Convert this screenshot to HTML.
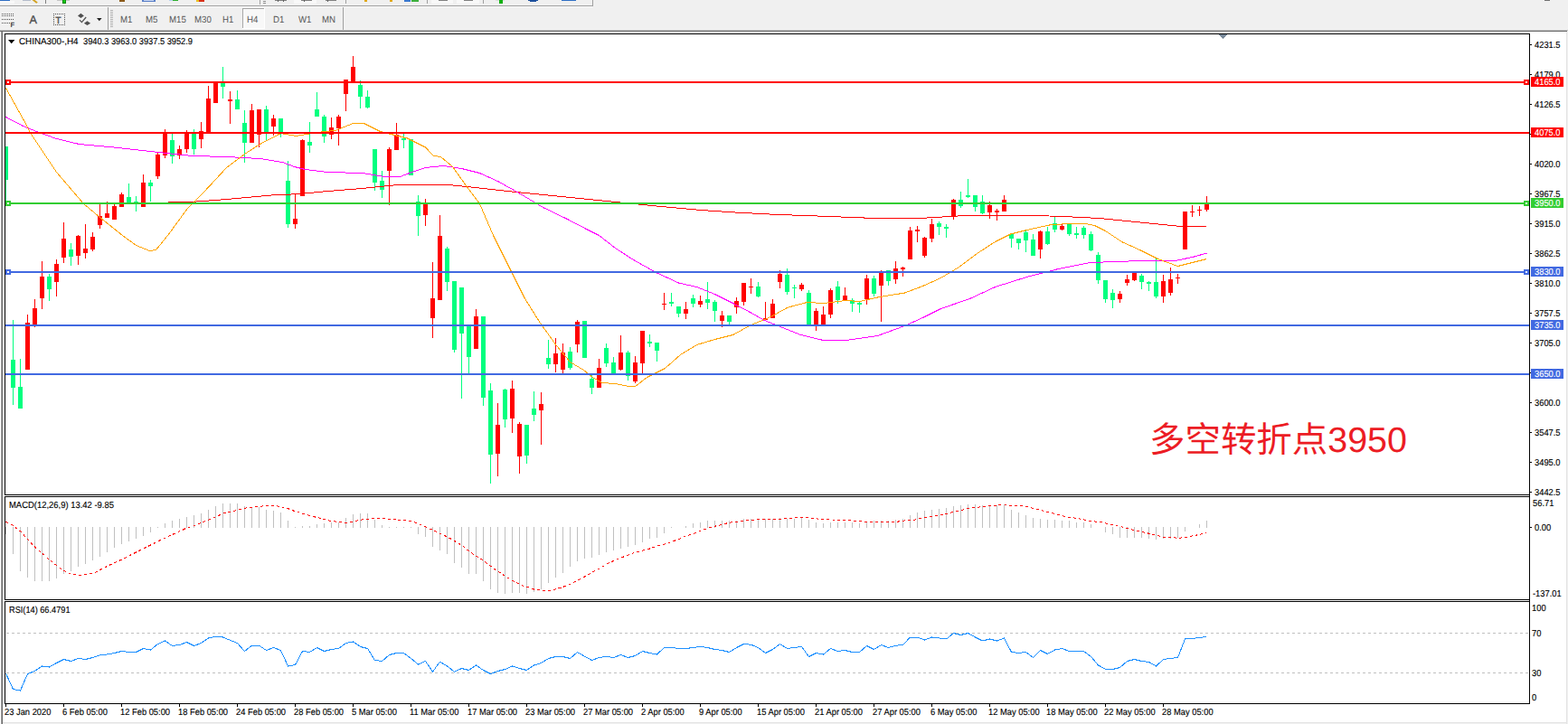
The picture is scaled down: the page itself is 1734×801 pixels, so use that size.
<!DOCTYPE html>
<html><head><meta charset="utf-8"><title>CHINA300 H4</title>
<style>html,body{margin:0;padding:0;background:#f0f0f0}body{width:1734px;height:801px;overflow:hidden;font-family:"Liberation Sans",sans-serif}svg{display:block}text{font-family:"Liberation Sans",sans-serif;text-rendering:geometricPrecision}</style>
</head><body>
<svg width="1734" height="801" viewBox="0 0 1734 801">
<rect x="0" y="0" width="1734" height="801" fill="#f0f0f0"/>
<g shape-rendering="crispEdges">
<rect x="0" y="0" width="11" height="1" fill="#2f6fc4"/>
<rect x="0" y="1" width="16" height="3" fill="#f8f8f8"/>
<rect x="25" y="0" width="9" height="1" fill="#b4bccb"/>
<path d="M35.5 0 L38.5 0 L41.8 2.6 L40.2 3.8 Z" fill="#d2a11e" shape-rendering="auto"/>
<rect x="50" y="0" width="1" height="4" fill="#808080"/>
<rect x="63" y="0" width="14" height="1" fill="#c4c4c4"/>
<rect x="69" y="0" width="4" height="4" fill="#0a8a0a"/>
<rect x="70" y="0" width="2" height="3" fill="#14c814"/>
<rect x="132" y="0" width="6" height="2" fill="#8a5a1a"/>
<rect x="157" y="0" width="15" height="2" fill="#5a7fc8"/>
<rect x="159" y="0" width="11" height="1" fill="#c8d6f0"/>
<rect x="187" y="0" width="5" height="1" fill="#b8d0f0"/>
<rect x="191" y="0" width="6" height="1" fill="#2fae2f"/>
<rect x="217" y="0" width="4" height="2" fill="#e8c020"/>
<rect x="220" y="0" width="6" height="2" fill="#d83018"/>
<rect x="287" y="0" width="1" height="5" fill="#a0a0a0"/>
<rect x="291" y="1" width="3" height="1" fill="#909090"/>
<rect x="291" y="3" width="3" height="1" fill="#909090"/>
<rect x="304" y="0" width="13" height="1" fill="#808080"/>
<rect x="307" y="0" width="1" height="2" fill="#606060"/>
<rect x="313" y="0" width="1" height="2" fill="#606060"/>
<rect x="325" y="0" width="25" height="4" fill="#f8f8f8"/>
<rect x="333" y="0" width="12" height="1" fill="#808080"/>
<rect x="336" y="0" width="1" height="2" fill="#606060"/>
<rect x="360" y="0" width="12" height="1" fill="#808080"/>
<rect x="362" y="0" width="1" height="2" fill="#606060"/>
<rect x="382" y="0" width="1" height="4" fill="#a0a0a0"/>
<rect x="403" y="0" width="3" height="2" fill="#e0a818"/>
<rect x="431" y="0" width="3" height="2" fill="#e0a818"/>
<rect x="447" y="0" width="7" height="2" fill="#3a78d0"/>
<rect x="455" y="0" width="8" height="2" fill="#3cb03c"/>
<rect x="472" y="0" width="1" height="4" fill="#a0a0a0"/>
<rect x="477" y="0" width="24" height="4" fill="#f8f8f8"/>
<rect x="485" y="0" width="10" height="1" fill="#808080"/>
<rect x="505" y="0" width="25" height="4" fill="#f8f8f8"/>
<rect x="513" y="0" width="10" height="1" fill="#808080"/>
<rect x="534" y="0" width="1" height="4" fill="#a0a0a0"/>
<rect x="548" y="0" width="10" height="1" fill="#dcdcdc"/>
<rect x="552" y="0" width="4" height="4" fill="#10b010"/>
<rect x="584" y="0" width="11" height="1" fill="#1c4f9c"/>
<rect x="586" y="1" width="7" height="1" fill="#1c4f9c"/>
<rect x="621" y="0" width="16" height="1" fill="#2f6fc4"/>
<rect x="0" y="6" width="656" height="1" fill="#a0a0a0"/>
<rect x="655" y="0" width="1" height="7" fill="#a0a0a0"/>
<rect x="0" y="7" width="655" height="1" fill="#fafafa"/>
<rect x="1708" y="0" width="6" height="1" fill="#707070"/>
<rect x="2" y="15" width="1" height="1" fill="#505050"/>
<rect x="4" y="15" width="1" height="1" fill="#505050"/>
<rect x="6" y="15" width="1" height="1" fill="#505050"/>
<rect x="8" y="15" width="1" height="1" fill="#505050"/>
<rect x="10" y="15" width="1" height="1" fill="#505050"/>
<rect x="12" y="15" width="1" height="1" fill="#505050"/>
<rect x="14" y="15" width="1" height="1" fill="#505050"/>
<rect x="2" y="17" width="1" height="1" fill="#505050"/>
<rect x="4" y="17" width="1" height="1" fill="#505050"/>
<rect x="6" y="17" width="1" height="1" fill="#505050"/>
<rect x="8" y="17" width="1" height="1" fill="#505050"/>
<rect x="10" y="17" width="1" height="1" fill="#505050"/>
<rect x="12" y="17" width="1" height="1" fill="#505050"/>
<rect x="14" y="17" width="1" height="1" fill="#505050"/>
<rect x="2" y="21" width="1" height="1" fill="#505050"/>
<rect x="4" y="21" width="1" height="1" fill="#505050"/>
<rect x="6" y="21" width="1" height="1" fill="#505050"/>
<rect x="8" y="21" width="1" height="1" fill="#505050"/>
<rect x="10" y="21" width="1" height="1" fill="#505050"/>
<rect x="12" y="21" width="1" height="1" fill="#505050"/>
<rect x="14" y="21" width="1" height="1" fill="#505050"/>
<rect x="2" y="25" width="1" height="1" fill="#505050"/>
<rect x="4" y="25" width="1" height="1" fill="#505050"/>
<rect x="6" y="25" width="1" height="1" fill="#505050"/>
<rect x="8" y="25" width="1" height="1" fill="#505050"/>
<rect x="10" y="25" width="1" height="1" fill="#505050"/>
</g>
<text x="11.6" y="29.6" font-size="7.6" fill="#404040" font-weight="bold">F</text>
<text x="32.6" y="26.3" font-size="12.6" fill="#505050" stroke="#505050" stroke-width="0.35">A</text>
<text x="61.2" y="25.6" font-size="10.4" fill="#505050" stroke="#505050" stroke-width="0.35">T</text>
<g shape-rendering="crispEdges">
<rect x="59" y="15" width="1" height="1" fill="#505050"/>
<rect x="59" y="27" width="1" height="1" fill="#505050"/>
<rect x="61" y="15" width="1" height="1" fill="#505050"/>
<rect x="61" y="27" width="1" height="1" fill="#505050"/>
<rect x="63" y="15" width="1" height="1" fill="#505050"/>
<rect x="63" y="27" width="1" height="1" fill="#505050"/>
<rect x="65" y="15" width="1" height="1" fill="#505050"/>
<rect x="65" y="27" width="1" height="1" fill="#505050"/>
<rect x="67" y="15" width="1" height="1" fill="#505050"/>
<rect x="67" y="27" width="1" height="1" fill="#505050"/>
<rect x="69" y="15" width="1" height="1" fill="#505050"/>
<rect x="69" y="27" width="1" height="1" fill="#505050"/>
<rect x="71" y="15" width="1" height="1" fill="#505050"/>
<rect x="71" y="27" width="1" height="1" fill="#505050"/>
<rect x="59" y="15" width="1" height="1" fill="#505050"/>
<rect x="71" y="15" width="1" height="1" fill="#505050"/>
<rect x="59" y="17" width="1" height="1" fill="#505050"/>
<rect x="71" y="17" width="1" height="1" fill="#505050"/>
<rect x="59" y="19" width="1" height="1" fill="#505050"/>
<rect x="71" y="19" width="1" height="1" fill="#505050"/>
<rect x="59" y="21" width="1" height="1" fill="#505050"/>
<rect x="71" y="21" width="1" height="1" fill="#505050"/>
<rect x="59" y="23" width="1" height="1" fill="#505050"/>
<rect x="71" y="23" width="1" height="1" fill="#505050"/>
<rect x="59" y="25" width="1" height="1" fill="#505050"/>
<rect x="71" y="25" width="1" height="1" fill="#505050"/>
<rect x="59" y="27" width="1" height="1" fill="#505050"/>
<rect x="71" y="27" width="1" height="1" fill="#505050"/>
</g>
<path d="M89.4 14.8 L92.9 17.6 L89.4 20 L86 17.6 Z M96.5 23.2 L100.1 25.7 L96.5 28.1 L92.9 25.7 Z" fill="#505050"/>
<path d="M88 22.2 L90.4 24.7 L95.2 19" fill="none" stroke="#505050" stroke-width="1.2"/>
<path d="M107 20 L112.6 20 L109.8 23.2 Z" fill="#202020"/>
<g shape-rendering="crispEdges">
<rect x="119" y="8" width="1" height="25" fill="#a0a0a0"/>
<rect x="122" y="11" width="3" height="1" fill="#b4b4b4"/>
<rect x="122" y="13" width="3" height="1" fill="#b4b4b4"/>
<rect x="122" y="15" width="3" height="1" fill="#b4b4b4"/>
<rect x="122" y="17" width="3" height="1" fill="#b4b4b4"/>
<rect x="122" y="19" width="3" height="1" fill="#b4b4b4"/>
<rect x="122" y="21" width="3" height="1" fill="#b4b4b4"/>
<rect x="122" y="23" width="3" height="1" fill="#b4b4b4"/>
<rect x="122" y="25" width="3" height="1" fill="#b4b4b4"/>
<rect x="122" y="27" width="3" height="1" fill="#b4b4b4"/>
<rect x="122" y="29" width="3" height="1" fill="#b4b4b4"/>
<rect x="268" y="9" width="25" height="23" fill="#f8f8f8"/>
<rect x="268" y="9" width="25" height="1" fill="#a8a8a8"/>
<rect x="268" y="9" width="1" height="23" fill="#a8a8a8"/>
<rect x="292" y="9" width="1" height="23" fill="#ffffff"/>
<rect x="268" y="31" width="25" height="1" fill="#ffffff"/>
<rect x="379" y="8" width="1" height="25" fill="#a0a0a0"/>
</g>
<text transform="translate(133 25) scale(0.93 1)" font-size="10.4" fill="#585858">M1</text>
<text transform="translate(161 25) scale(0.93 1)" font-size="10.4" fill="#585858">M5</text>
<text transform="translate(187 25) scale(0.93 1)" font-size="10.4" fill="#585858">M15</text>
<text transform="translate(215 25) scale(0.93 1)" font-size="10.4" fill="#585858">M30</text>
<text transform="translate(246 25) scale(0.93 1)" font-size="10.4" fill="#585858">H1</text>
<text transform="translate(273 25) scale(0.93 1)" font-size="10.4" fill="#585858">H4</text>
<text transform="translate(302 25) scale(0.93 1)" font-size="10.4" fill="#585858">D1</text>
<text transform="translate(330 25) scale(0.93 1)" font-size="10.4" fill="#585858">W1</text>
<text transform="translate(356 25) scale(0.93 1)" font-size="10.4" fill="#585858">MN</text>
<g shape-rendering="crispEdges">
<rect x="0" y="33" width="1734" height="1" fill="#c2c2c2"/>
<rect x="0" y="34" width="1733" height="1" fill="#696969"/>
<rect x="3" y="35" width="1729" height="764" fill="#ffffff"/>
<rect x="0" y="35" width="1" height="766" fill="#ffffff"/>
<rect x="1" y="35" width="1" height="766" fill="#a0a0a0"/>
<rect x="2" y="35" width="1" height="766" fill="#696969"/>
<rect x="1732" y="35" width="1" height="766" fill="#e3e3e3"/>
<rect x="3" y="799" width="1729" height="1" fill="#e3e3e3"/>
<rect x="5" y="37" width="1687" height="1" fill="#000000"/>
<rect x="5" y="547" width="1687" height="1" fill="#000000"/>
<rect x="5" y="37" width="1" height="511" fill="#000000"/>
<rect x="5" y="549" width="1687" height="1" fill="#000000"/>
<rect x="5" y="663" width="1687" height="1" fill="#000000"/>
<rect x="5" y="549" width="1" height="115" fill="#000000"/>
<rect x="5" y="665" width="1687" height="1" fill="#000000"/>
<rect x="5" y="778" width="1687" height="1" fill="#000000"/>
<rect x="5" y="665" width="1" height="114" fill="#000000"/>
<rect x="1691" y="37" width="1" height="742" fill="#000000"/>
</g>
<defs><clipPath id="cm"><rect x="6" y="38" width="1685" height="509"/></clipPath></defs>
<g shape-rendering="crispEdges" clip-path="url(#cm)">
<rect x="6" y="162" width="1" height="60" fill="#00ff7f"/>
<rect x="4" y="162" width="5" height="37" fill="#00ff7f"/>
<rect x="14" y="354" width="1" height="94" fill="#00ff7f"/>
<rect x="12" y="398" width="5" height="31" fill="#00ff7f"/>
<rect x="22" y="397" width="1" height="55" fill="#00ff7f"/>
<rect x="20" y="428" width="5" height="24" fill="#00ff7f"/>
<rect x="30" y="348" width="1" height="61" fill="#ff0000"/>
<rect x="28" y="357" width="5" height="52" fill="#ff0000"/>
<rect x="38" y="331" width="1" height="31" fill="#ff0000"/>
<rect x="36" y="341" width="5" height="19" fill="#ff0000"/>
<rect x="46" y="289" width="1" height="53" fill="#ff0000"/>
<rect x="44" y="306" width="5" height="24" fill="#ff0000"/>
<rect x="54" y="303" width="1" height="30" fill="#00ff7f"/>
<rect x="52" y="306" width="5" height="14" fill="#00ff7f"/>
<rect x="62" y="287" width="1" height="41" fill="#ff0000"/>
<rect x="60" y="292" width="5" height="20" fill="#ff0000"/>
<rect x="70" y="246" width="1" height="45" fill="#ff0000"/>
<rect x="68" y="264" width="5" height="21" fill="#ff0000"/>
<rect x="78" y="269" width="1" height="25" fill="#00ff7f"/>
<rect x="76" y="276" width="5" height="8" fill="#00ff7f"/>
<rect x="86" y="260" width="1" height="33" fill="#ff0000"/>
<rect x="84" y="261" width="5" height="22" fill="#ff0000"/>
<rect x="94" y="248" width="1" height="38" fill="#ff0000"/>
<rect x="92" y="275" width="5" height="5" fill="#ff0000"/>
<rect x="102" y="257" width="1" height="21" fill="#ff0000"/>
<rect x="100" y="262" width="5" height="14" fill="#ff0000"/>
<rect x="110" y="226" width="1" height="27" fill="#ff0000"/>
<rect x="108" y="239" width="5" height="10" fill="#ff0000"/>
<rect x="118" y="223" width="1" height="18" fill="#ff0000"/>
<rect x="116" y="236" width="5" height="5" fill="#ff0000"/>
<rect x="126" y="226" width="1" height="17" fill="#ff0000"/>
<rect x="124" y="228" width="5" height="15" fill="#ff0000"/>
<rect x="134" y="213" width="1" height="16" fill="#ff0000"/>
<rect x="132" y="215" width="5" height="14" fill="#ff0000"/>
<rect x="142" y="203" width="1" height="22" fill="#00ff7f"/>
<rect x="140" y="218" width="5" height="7" fill="#00ff7f"/>
<rect x="150" y="217" width="1" height="17" fill="#00ff7f"/>
<rect x="148" y="223" width="5" height="2" fill="#00ff7f"/>
<rect x="158" y="193" width="1" height="36" fill="#ff0000"/>
<rect x="156" y="202" width="5" height="27" fill="#ff0000"/>
<rect x="166" y="199" width="1" height="24" fill="#00ff7f"/>
<rect x="164" y="202" width="5" height="4" fill="#00ff7f"/>
<rect x="174" y="168" width="1" height="30" fill="#ff0000"/>
<rect x="172" y="171" width="5" height="24" fill="#ff0000"/>
<rect x="182" y="143" width="1" height="32" fill="#ff0000"/>
<rect x="180" y="146" width="5" height="26" fill="#ff0000"/>
<rect x="190" y="148" width="1" height="33" fill="#00ff7f"/>
<rect x="188" y="155" width="5" height="18" fill="#00ff7f"/>
<rect x="198" y="161" width="1" height="15" fill="#ff0000"/>
<rect x="196" y="165" width="5" height="7" fill="#ff0000"/>
<rect x="206" y="144" width="1" height="25" fill="#ff0000"/>
<rect x="204" y="147" width="5" height="18" fill="#ff0000"/>
<rect x="214" y="143" width="1" height="28" fill="#00ff7f"/>
<rect x="212" y="147" width="5" height="18" fill="#00ff7f"/>
<rect x="222" y="135" width="1" height="29" fill="#ff0000"/>
<rect x="220" y="145" width="5" height="9" fill="#ff0000"/>
<rect x="230" y="95" width="1" height="52" fill="#ff0000"/>
<rect x="228" y="109" width="5" height="38" fill="#ff0000"/>
<rect x="238" y="91" width="1" height="23" fill="#ff0000"/>
<rect x="236" y="91" width="5" height="23" fill="#ff0000"/>
<rect x="246" y="74" width="1" height="35" fill="#00ff7f"/>
<rect x="244" y="91" width="5" height="5" fill="#00ff7f"/>
<rect x="254" y="101" width="1" height="36" fill="#ff0000"/>
<rect x="252" y="110" width="5" height="2" fill="#ff0000"/>
<rect x="262" y="100" width="1" height="21" fill="#00ff7f"/>
<rect x="260" y="110" width="5" height="11" fill="#00ff7f"/>
<rect x="270" y="122" width="1" height="58" fill="#00ff7f"/>
<rect x="268" y="136" width="5" height="22" fill="#00ff7f"/>
<rect x="278" y="115" width="1" height="43" fill="#ff0000"/>
<rect x="276" y="122" width="5" height="36" fill="#ff0000"/>
<rect x="286" y="121" width="1" height="42" fill="#ff0000"/>
<rect x="284" y="121" width="5" height="28" fill="#ff0000"/>
<rect x="294" y="117" width="1" height="39" fill="#00ff7f"/>
<rect x="292" y="121" width="5" height="26" fill="#00ff7f"/>
<rect x="302" y="127" width="1" height="23" fill="#ff0000"/>
<rect x="300" y="131" width="5" height="9" fill="#ff0000"/>
<rect x="310" y="131" width="1" height="21" fill="#00ff7f"/>
<rect x="308" y="131" width="5" height="16" fill="#00ff7f"/>
<rect x="318" y="178" width="1" height="74" fill="#00ff7f"/>
<rect x="316" y="200" width="5" height="48" fill="#00ff7f"/>
<rect x="326" y="214" width="1" height="39" fill="#ff0000"/>
<rect x="324" y="242" width="5" height="6" fill="#ff0000"/>
<rect x="334" y="154" width="1" height="63" fill="#ff0000"/>
<rect x="332" y="155" width="5" height="62" fill="#ff0000"/>
<rect x="342" y="135" width="1" height="34" fill="#00ff7f"/>
<rect x="340" y="157" width="5" height="4" fill="#00ff7f"/>
<rect x="350" y="102" width="1" height="27" fill="#00ff7f"/>
<rect x="348" y="121" width="5" height="8" fill="#00ff7f"/>
<rect x="358" y="127" width="1" height="31" fill="#00ff7f"/>
<rect x="356" y="129" width="5" height="22" fill="#00ff7f"/>
<rect x="366" y="130" width="1" height="24" fill="#ff0000"/>
<rect x="364" y="141" width="5" height="8" fill="#ff0000"/>
<rect x="374" y="127" width="1" height="34" fill="#ff0000"/>
<rect x="372" y="129" width="5" height="13" fill="#ff0000"/>
<rect x="382" y="88" width="1" height="35" fill="#ff0000"/>
<rect x="380" y="88" width="5" height="16" fill="#ff0000"/>
<rect x="390" y="62" width="1" height="29" fill="#ff0000"/>
<rect x="388" y="74" width="5" height="17" fill="#ff0000"/>
<rect x="398" y="89" width="1" height="31" fill="#00ff7f"/>
<rect x="396" y="94" width="5" height="13" fill="#00ff7f"/>
<rect x="406" y="100" width="1" height="20" fill="#00ff7f"/>
<rect x="404" y="107" width="5" height="12" fill="#00ff7f"/>
<rect x="414" y="165" width="1" height="46" fill="#00ff7f"/>
<rect x="412" y="165" width="5" height="37" fill="#00ff7f"/>
<rect x="422" y="189" width="1" height="30" fill="#00ff7f"/>
<rect x="420" y="200" width="5" height="10" fill="#00ff7f"/>
<rect x="430" y="163" width="1" height="64" fill="#ff0000"/>
<rect x="428" y="165" width="5" height="24" fill="#ff0000"/>
<rect x="438" y="136" width="1" height="30" fill="#ff0000"/>
<rect x="436" y="149" width="5" height="17" fill="#ff0000"/>
<rect x="446" y="148" width="1" height="16" fill="#00ff7f"/>
<rect x="444" y="153" width="5" height="2" fill="#00ff7f"/>
<rect x="454" y="154" width="1" height="40" fill="#00ff7f"/>
<rect x="452" y="154" width="5" height="40" fill="#00ff7f"/>
<rect x="462" y="216" width="1" height="45" fill="#00ff7f"/>
<rect x="460" y="223" width="5" height="16" fill="#00ff7f"/>
<rect x="470" y="220" width="1" height="30" fill="#ff0000"/>
<rect x="468" y="225" width="5" height="13" fill="#ff0000"/>
<rect x="478" y="290" width="1" height="84" fill="#ff0000"/>
<rect x="476" y="330" width="5" height="22" fill="#ff0000"/>
<rect x="486" y="238" width="1" height="94" fill="#ff0000"/>
<rect x="484" y="261" width="5" height="71" fill="#ff0000"/>
<rect x="494" y="273" width="1" height="49" fill="#00ff7f"/>
<rect x="492" y="275" width="5" height="37" fill="#00ff7f"/>
<rect x="502" y="311" width="1" height="79" fill="#00ff7f"/>
<rect x="500" y="311" width="5" height="76" fill="#00ff7f"/>
<rect x="510" y="318" width="1" height="123" fill="#00ff7f"/>
<rect x="508" y="318" width="5" height="51" fill="#00ff7f"/>
<rect x="518" y="360" width="1" height="53" fill="#00ff7f"/>
<rect x="516" y="360" width="5" height="35" fill="#00ff7f"/>
<rect x="526" y="342" width="1" height="44" fill="#ff0000"/>
<rect x="524" y="350" width="5" height="36" fill="#ff0000"/>
<rect x="534" y="350" width="1" height="99" fill="#00ff7f"/>
<rect x="532" y="350" width="5" height="90" fill="#00ff7f"/>
<rect x="542" y="424" width="1" height="111" fill="#00ff7f"/>
<rect x="540" y="432" width="5" height="71" fill="#00ff7f"/>
<rect x="550" y="446" width="1" height="81" fill="#ff0000"/>
<rect x="548" y="470" width="5" height="32" fill="#ff0000"/>
<rect x="558" y="430" width="1" height="43" fill="#00ff7f"/>
<rect x="556" y="431" width="5" height="33" fill="#00ff7f"/>
<rect x="566" y="421" width="1" height="58" fill="#ff0000"/>
<rect x="564" y="430" width="5" height="33" fill="#ff0000"/>
<rect x="574" y="467" width="1" height="57" fill="#ff0000"/>
<rect x="572" y="469" width="5" height="36" fill="#ff0000"/>
<rect x="582" y="470" width="1" height="43" fill="#00ff7f"/>
<rect x="580" y="470" width="5" height="34" fill="#00ff7f"/>
<rect x="590" y="433" width="1" height="33" fill="#00ff7f"/>
<rect x="588" y="452" width="5" height="7" fill="#00ff7f"/>
<rect x="598" y="434" width="1" height="58" fill="#ff0000"/>
<rect x="596" y="447" width="5" height="7" fill="#ff0000"/>
<rect x="606" y="376" width="1" height="32" fill="#00ff7f"/>
<rect x="604" y="396" width="5" height="7" fill="#00ff7f"/>
<rect x="614" y="374" width="1" height="38" fill="#ff0000"/>
<rect x="612" y="391" width="5" height="12" fill="#ff0000"/>
<rect x="622" y="380" width="1" height="33" fill="#ff0000"/>
<rect x="620" y="390" width="5" height="19" fill="#ff0000"/>
<rect x="630" y="384" width="1" height="25" fill="#00ff7f"/>
<rect x="628" y="389" width="5" height="18" fill="#00ff7f"/>
<rect x="638" y="354" width="1" height="36" fill="#ff0000"/>
<rect x="636" y="356" width="5" height="25" fill="#ff0000"/>
<rect x="646" y="355" width="1" height="41" fill="#00ff7f"/>
<rect x="644" y="355" width="5" height="41" fill="#00ff7f"/>
<rect x="654" y="415" width="1" height="21" fill="#00ff7f"/>
<rect x="652" y="419" width="5" height="10" fill="#00ff7f"/>
<rect x="662" y="397" width="1" height="32" fill="#ff0000"/>
<rect x="660" y="407" width="5" height="22" fill="#ff0000"/>
<rect x="670" y="380" width="1" height="26" fill="#00ff7f"/>
<rect x="668" y="385" width="5" height="17" fill="#00ff7f"/>
<rect x="678" y="395" width="1" height="19" fill="#00ff7f"/>
<rect x="676" y="401" width="5" height="13" fill="#00ff7f"/>
<rect x="686" y="371" width="1" height="39" fill="#ff0000"/>
<rect x="684" y="390" width="5" height="19" fill="#ff0000"/>
<rect x="694" y="388" width="1" height="33" fill="#00ff7f"/>
<rect x="692" y="390" width="5" height="26" fill="#00ff7f"/>
<rect x="702" y="394" width="1" height="30" fill="#ff0000"/>
<rect x="700" y="401" width="5" height="21" fill="#ff0000"/>
<rect x="710" y="366" width="1" height="48" fill="#ff0000"/>
<rect x="708" y="366" width="5" height="36" fill="#ff0000"/>
<rect x="718" y="370" width="1" height="14" fill="#00ff7f"/>
<rect x="716" y="378" width="5" height="2" fill="#00ff7f"/>
<rect x="726" y="379" width="1" height="21" fill="#00ff7f"/>
<rect x="724" y="379" width="5" height="9" fill="#00ff7f"/>
<rect x="734" y="324" width="1" height="19" fill="#ff0000"/>
<rect x="732" y="336" width="5" height="1" fill="#ff0000"/>
<rect x="742" y="324" width="1" height="15" fill="#00ff7f"/>
<rect x="740" y="334" width="5" height="2" fill="#00ff7f"/>
<rect x="750" y="339" width="1" height="12" fill="#00ff7f"/>
<rect x="748" y="339" width="5" height="8" fill="#00ff7f"/>
<rect x="758" y="334" width="1" height="19" fill="#ff0000"/>
<rect x="756" y="342" width="5" height="5" fill="#ff0000"/>
<rect x="766" y="326" width="1" height="14" fill="#00ff7f"/>
<rect x="764" y="330" width="5" height="6" fill="#00ff7f"/>
<rect x="774" y="327" width="1" height="13" fill="#ff0000"/>
<rect x="772" y="333" width="5" height="4" fill="#ff0000"/>
<rect x="782" y="312" width="1" height="30" fill="#00ff7f"/>
<rect x="780" y="331" width="5" height="4" fill="#00ff7f"/>
<rect x="790" y="332" width="1" height="24" fill="#00ff7f"/>
<rect x="788" y="334" width="5" height="10" fill="#00ff7f"/>
<rect x="798" y="344" width="1" height="18" fill="#ff0000"/>
<rect x="796" y="349" width="5" height="6" fill="#ff0000"/>
<rect x="806" y="349" width="1" height="10" fill="#00ff7f"/>
<rect x="804" y="349" width="5" height="7" fill="#00ff7f"/>
<rect x="814" y="329" width="1" height="18" fill="#ff0000"/>
<rect x="812" y="333" width="5" height="7" fill="#ff0000"/>
<rect x="822" y="313" width="1" height="25" fill="#ff0000"/>
<rect x="820" y="313" width="5" height="21" fill="#ff0000"/>
<rect x="830" y="308" width="1" height="17" fill="#ff0000"/>
<rect x="828" y="317" width="5" height="1" fill="#ff0000"/>
<rect x="838" y="312" width="1" height="17" fill="#00ff7f"/>
<rect x="836" y="317" width="5" height="11" fill="#00ff7f"/>
<rect x="846" y="334" width="1" height="20" fill="#ff0000"/>
<rect x="844" y="352" width="5" height="2" fill="#ff0000"/>
<rect x="854" y="331" width="1" height="21" fill="#ff0000"/>
<rect x="852" y="336" width="5" height="16" fill="#ff0000"/>
<rect x="862" y="299" width="1" height="20" fill="#ff0000"/>
<rect x="860" y="303" width="5" height="9" fill="#ff0000"/>
<rect x="870" y="297" width="1" height="29" fill="#00ff7f"/>
<rect x="868" y="304" width="5" height="19" fill="#00ff7f"/>
<rect x="878" y="315" width="1" height="15" fill="#00ff7f"/>
<rect x="876" y="318" width="5" height="1" fill="#00ff7f"/>
<rect x="886" y="313" width="1" height="9" fill="#ff0000"/>
<rect x="884" y="315" width="5" height="5" fill="#ff0000"/>
<rect x="894" y="321" width="1" height="38" fill="#00ff7f"/>
<rect x="892" y="324" width="5" height="35" fill="#00ff7f"/>
<rect x="902" y="341" width="1" height="25" fill="#ff0000"/>
<rect x="900" y="344" width="5" height="15" fill="#ff0000"/>
<rect x="910" y="339" width="1" height="20" fill="#ff0000"/>
<rect x="908" y="348" width="5" height="11" fill="#ff0000"/>
<rect x="918" y="319" width="1" height="33" fill="#ff0000"/>
<rect x="916" y="321" width="5" height="27" fill="#ff0000"/>
<rect x="926" y="311" width="1" height="25" fill="#00ff7f"/>
<rect x="924" y="317" width="5" height="15" fill="#00ff7f"/>
<rect x="934" y="318" width="1" height="14" fill="#ff0000"/>
<rect x="932" y="327" width="5" height="5" fill="#ff0000"/>
<rect x="942" y="330" width="1" height="15" fill="#00ff7f"/>
<rect x="940" y="332" width="5" height="4" fill="#00ff7f"/>
<rect x="950" y="334" width="1" height="12" fill="#00ff7f"/>
<rect x="948" y="335" width="5" height="2" fill="#00ff7f"/>
<rect x="958" y="304" width="1" height="33" fill="#ff0000"/>
<rect x="956" y="308" width="5" height="23" fill="#ff0000"/>
<rect x="966" y="305" width="1" height="23" fill="#00ff7f"/>
<rect x="964" y="308" width="5" height="17" fill="#00ff7f"/>
<rect x="974" y="299" width="1" height="57" fill="#ff0000"/>
<rect x="972" y="302" width="5" height="14" fill="#ff0000"/>
<rect x="982" y="299" width="1" height="17" fill="#00ff7f"/>
<rect x="980" y="299" width="5" height="12" fill="#00ff7f"/>
<rect x="990" y="289" width="1" height="25" fill="#ff0000"/>
<rect x="988" y="297" width="5" height="12" fill="#ff0000"/>
<rect x="998" y="295" width="1" height="11" fill="#ff0000"/>
<rect x="996" y="296" width="5" height="2" fill="#ff0000"/>
<rect x="1006" y="251" width="1" height="36" fill="#ff0000"/>
<rect x="1004" y="255" width="5" height="32" fill="#ff0000"/>
<rect x="1014" y="250" width="1" height="18" fill="#ff0000"/>
<rect x="1012" y="254" width="5" height="2" fill="#ff0000"/>
<rect x="1022" y="262" width="1" height="23" fill="#ff0000"/>
<rect x="1020" y="263" width="5" height="20" fill="#ff0000"/>
<rect x="1030" y="242" width="1" height="26" fill="#ff0000"/>
<rect x="1028" y="248" width="5" height="16" fill="#ff0000"/>
<rect x="1038" y="245" width="1" height="15" fill="#00ff7f"/>
<rect x="1036" y="247" width="5" height="4" fill="#00ff7f"/>
<rect x="1046" y="248" width="1" height="15" fill="#00ff7f"/>
<rect x="1044" y="251" width="5" height="2" fill="#00ff7f"/>
<rect x="1054" y="220" width="1" height="23" fill="#ff0000"/>
<rect x="1052" y="221" width="5" height="19" fill="#ff0000"/>
<rect x="1062" y="212" width="1" height="18" fill="#00ff7f"/>
<rect x="1060" y="221" width="5" height="7" fill="#00ff7f"/>
<rect x="1070" y="198" width="1" height="21" fill="#00ff7f"/>
<rect x="1068" y="216" width="5" height="2" fill="#00ff7f"/>
<rect x="1078" y="216" width="1" height="18" fill="#00ff7f"/>
<rect x="1076" y="216" width="5" height="13" fill="#00ff7f"/>
<rect x="1086" y="216" width="1" height="21" fill="#00ff7f"/>
<rect x="1084" y="223" width="5" height="13" fill="#00ff7f"/>
<rect x="1094" y="223" width="1" height="19" fill="#ff0000"/>
<rect x="1092" y="227" width="5" height="8" fill="#ff0000"/>
<rect x="1102" y="231" width="1" height="13" fill="#ff0000"/>
<rect x="1100" y="233" width="5" height="2" fill="#ff0000"/>
<rect x="1110" y="216" width="1" height="18" fill="#ff0000"/>
<rect x="1108" y="221" width="5" height="13" fill="#ff0000"/>
<rect x="1118" y="258" width="1" height="16" fill="#00ff7f"/>
<rect x="1116" y="259" width="5" height="5" fill="#00ff7f"/>
<rect x="1126" y="264" width="1" height="12" fill="#00ff7f"/>
<rect x="1124" y="264" width="5" height="5" fill="#00ff7f"/>
<rect x="1134" y="254" width="1" height="25" fill="#00ff7f"/>
<rect x="1132" y="257" width="5" height="9" fill="#00ff7f"/>
<rect x="1142" y="259" width="1" height="24" fill="#00ff7f"/>
<rect x="1140" y="265" width="5" height="18" fill="#00ff7f"/>
<rect x="1150" y="255" width="1" height="31" fill="#ff0000"/>
<rect x="1148" y="256" width="5" height="20" fill="#ff0000"/>
<rect x="1158" y="251" width="1" height="20" fill="#00ff7f"/>
<rect x="1156" y="256" width="5" height="14" fill="#00ff7f"/>
<rect x="1166" y="240" width="1" height="17" fill="#00ff7f"/>
<rect x="1164" y="247" width="5" height="7" fill="#00ff7f"/>
<rect x="1174" y="248" width="1" height="7" fill="#ff0000"/>
<rect x="1172" y="250" width="5" height="4" fill="#ff0000"/>
<rect x="1182" y="248" width="1" height="13" fill="#00ff7f"/>
<rect x="1180" y="248" width="5" height="11" fill="#00ff7f"/>
<rect x="1190" y="251" width="1" height="13" fill="#00ff7f"/>
<rect x="1188" y="258" width="5" height="2" fill="#00ff7f"/>
<rect x="1198" y="250" width="1" height="14" fill="#00ff7f"/>
<rect x="1196" y="252" width="5" height="8" fill="#00ff7f"/>
<rect x="1206" y="256" width="1" height="22" fill="#00ff7f"/>
<rect x="1204" y="259" width="5" height="18" fill="#00ff7f"/>
<rect x="1214" y="279" width="1" height="35" fill="#00ff7f"/>
<rect x="1212" y="282" width="5" height="28" fill="#00ff7f"/>
<rect x="1222" y="310" width="1" height="25" fill="#00ff7f"/>
<rect x="1220" y="310" width="5" height="21" fill="#00ff7f"/>
<rect x="1230" y="320" width="1" height="21" fill="#00ff7f"/>
<rect x="1228" y="324" width="5" height="8" fill="#00ff7f"/>
<rect x="1238" y="322" width="1" height="13" fill="#ff0000"/>
<rect x="1236" y="325" width="5" height="6" fill="#ff0000"/>
<rect x="1246" y="304" width="1" height="12" fill="#ff0000"/>
<rect x="1244" y="309" width="5" height="4" fill="#ff0000"/>
<rect x="1254" y="302" width="1" height="9" fill="#ff0000"/>
<rect x="1252" y="302" width="5" height="8" fill="#ff0000"/>
<rect x="1262" y="303" width="1" height="17" fill="#00ff7f"/>
<rect x="1260" y="305" width="5" height="7" fill="#00ff7f"/>
<rect x="1270" y="311" width="1" height="11" fill="#00ff7f"/>
<rect x="1268" y="312" width="5" height="2" fill="#00ff7f"/>
<rect x="1278" y="285" width="1" height="45" fill="#00ff7f"/>
<rect x="1276" y="312" width="5" height="16" fill="#00ff7f"/>
<rect x="1286" y="304" width="1" height="31" fill="#ff0000"/>
<rect x="1284" y="311" width="5" height="17" fill="#ff0000"/>
<rect x="1294" y="296" width="1" height="31" fill="#ff0000"/>
<rect x="1292" y="309" width="5" height="15" fill="#ff0000"/>
<rect x="1302" y="303" width="1" height="11" fill="#ff0000"/>
<rect x="1300" y="307" width="5" height="1" fill="#ff0000"/>
<rect x="1310" y="234" width="1" height="42" fill="#ff0000"/>
<rect x="1308" y="234" width="5" height="42" fill="#ff0000"/>
<rect x="1318" y="227" width="1" height="13" fill="#ff0000"/>
<rect x="1316" y="234" width="5" height="1" fill="#ff0000"/>
<rect x="1326" y="228" width="1" height="11" fill="#ff0000"/>
<rect x="1324" y="232" width="5" height="1" fill="#ff0000"/>
<rect x="1334" y="217" width="1" height="17" fill="#ff0000"/>
<rect x="1332" y="226" width="5" height="6" fill="#ff0000"/>
</g>
<g clip-path="url(#cm)" shape-rendering="crispEdges">
<polyline points="186.5,223.5 217.5,223 250.5,220.5 300.5,216 332.5,214.5 362.5,211.5 400.5,208.5 435.5,205 495.5,204.5 525.5,207.5 575.5,213 625.5,218 675.5,223 725.5,228 775.5,232.5 812.5,235 860.5,237.5 890.5,238.5 955.5,241 1025.5,241 1067.5,238.5 1160.5,239 1185.5,240 1215.5,241.5 1250.5,245 1280.5,248 1300.5,250 1334.5,250.8" fill="none" stroke="#ff0000" stroke-width="1"/>
<polyline points="6.5,129.5 25.5,139.5 40.5,145.5 62.5,153.5 87.5,159.5 125.5,163 175.5,168.5 212.5,172.5 250.5,173.5 287.5,175.5 312.5,179.5 325.5,184.5 337.5,187.5 362.5,190.5 400.5,191.5 425.5,195.5 442.5,195.5 455.5,190.5 470.5,185.5 490.5,183.5 510.5,186.5 530.5,191.5 550.5,200.5 575.5,214.5 600.5,229.5 625.5,241.5 650.5,254.5 662.5,260.5 680.5,274.5 700.5,287.5 725.5,301.5 750.5,313 770.5,317.5 790.5,325.5 810.5,335.5 830.5,346 845.5,354.5 860.5,360.5 885.5,370.5 910.5,376.5 935.5,376.5 970.5,371.5 1000.5,360.5 1020.5,351.5 1040.5,341.5 1072.5,330.5 1100.5,317.5 1135.5,306.5 1170.5,297.5 1205.5,290.5 1235.5,289.5 1260.5,288.5 1280.5,288.5 1302.5,288 1320.5,284 1334.5,280" fill="none" stroke="#ff00ff" stroke-width="1"/>
<polyline points="6.5,97.5 30.5,140.5 32.5,145.5 62.5,190.5 92.5,225.5 110.5,240.5 135.5,260.5 150.5,271.5 165.5,277.5 172.5,276.5 185.5,260.5 207.5,230.5 225.5,212.5 250.5,185.5 270.5,170.5 287.5,159.5 310.5,147.5 327.5,150.5 350.5,146.5 370.5,144.5 390.5,136.5 402.5,136.5 420.5,145.5 450.5,153 470.5,163 479.5,172.5 487.5,173.5 500.5,184.5 515.5,205.5 530.5,225.5 545.5,260.5 565.5,300.5 580.5,330.5 597.5,357.5 615.5,382.5 630.5,400.5 645.5,409.5 655.5,417.5 665.5,423.5 680.5,424.5 695.5,427.5 702.5,427.5 715.5,417.5 735.5,407.5 752.5,392.5 770.5,381.5 790.5,375.5 810.5,370.5 830.5,359.5 850.5,351.5 870.5,340.5 875.5,339 892.5,334.5 910.5,335.5 935.5,332.5 950.5,333.5 970.5,329 1000.5,324 1020.5,316.5 1040.5,307.5 1060.5,295.5 1080.5,280.5 1100.5,267.5 1117.5,259 1135.5,254.5 1160.5,249 1180.5,247.5 1200.5,247.5 1210.5,249.5 1222.5,255.5 1240.5,267.5 1260.5,276.5 1280.5,286.5 1302.5,294.5 1320.5,290 1334.5,286.5" fill="none" stroke="#ffa500" stroke-width="1"/>
</g>
<g shape-rendering="crispEdges">
<rect x="6" y="90" width="1685" height="2" fill="#ff0000"/>
<rect x="6" y="146" width="1685" height="2" fill="#ff0000"/>
<rect x="6" y="224" width="1685" height="2" fill="#32cd32"/>
<rect x="6" y="300" width="1685" height="2" fill="#4169e1"/>
<rect x="6" y="359" width="1685" height="2" fill="#4169e1"/>
<rect x="6" y="413" width="1685" height="2" fill="#4169e1"/>
<rect x="1692" y="49" width="2" height="1" fill="#000"/>
<rect x="1692" y="82" width="2" height="1" fill="#000"/>
<rect x="1692" y="115" width="2" height="1" fill="#000"/>
<rect x="1692" y="148" width="2" height="1" fill="#000"/>
<rect x="1692" y="181" width="2" height="1" fill="#000"/>
<rect x="1692" y="214" width="2" height="1" fill="#000"/>
<rect x="1692" y="247" width="2" height="1" fill="#000"/>
<rect x="1692" y="280" width="2" height="1" fill="#000"/>
<rect x="1692" y="313" width="2" height="1" fill="#000"/>
<rect x="1692" y="346" width="2" height="1" fill="#000"/>
<rect x="1692" y="379" width="2" height="1" fill="#000"/>
<rect x="1692" y="412" width="2" height="1" fill="#000"/>
<rect x="1692" y="445" width="2" height="1" fill="#000"/>
<rect x="1692" y="478" width="2" height="1" fill="#000"/>
<rect x="1692" y="511" width="2" height="1" fill="#000"/>
<rect x="1692" y="544" width="2" height="1" fill="#000"/>
<rect x="1692" y="583" width="2" height="1" fill="#000"/>
</g>
<text transform="translate(1697 52.8) scale(0.925 1)" font-size="10.1" fill="#000" stroke="#000" stroke-width="0.13">4231.5</text>
<text transform="translate(1697 85.8) scale(0.925 1)" font-size="10.1" fill="#000" stroke="#000" stroke-width="0.13">4179.0</text>
<text transform="translate(1697 118.8) scale(0.925 1)" font-size="10.1" fill="#000" stroke="#000" stroke-width="0.13">4126.5</text>
<text transform="translate(1697 184.8) scale(0.925 1)" font-size="10.1" fill="#000" stroke="#000" stroke-width="0.13">4020.0</text>
<text transform="translate(1697 217.8) scale(0.925 1)" font-size="10.1" fill="#000" stroke="#000" stroke-width="0.13">3967.5</text>
<text transform="translate(1697 250.8) scale(0.925 1)" font-size="10.1" fill="#000" stroke="#000" stroke-width="0.13">3915.0</text>
<text transform="translate(1697 283.8) scale(0.925 1)" font-size="10.1" fill="#000" stroke="#000" stroke-width="0.13">3862.5</text>
<text transform="translate(1697 316.8) scale(0.925 1)" font-size="10.1" fill="#000" stroke="#000" stroke-width="0.13">3810.0</text>
<text transform="translate(1697 349.8) scale(0.925 1)" font-size="10.1" fill="#000" stroke="#000" stroke-width="0.13">3757.5</text>
<text transform="translate(1697 382.8) scale(0.925 1)" font-size="10.1" fill="#000" stroke="#000" stroke-width="0.13">3705.0</text>
<text transform="translate(1697 448.8) scale(0.925 1)" font-size="10.1" fill="#000" stroke="#000" stroke-width="0.13">3600.0</text>
<text transform="translate(1697 481.8) scale(0.925 1)" font-size="10.1" fill="#000" stroke="#000" stroke-width="0.13">3547.5</text>
<text transform="translate(1697 514.8) scale(0.925 1)" font-size="10.1" fill="#000" stroke="#000" stroke-width="0.13">3495.0</text>
<text transform="translate(1697 547.8) scale(0.925 1)" font-size="10.1" fill="#000" stroke="#000" stroke-width="0.13">3442.5</text>
<g shape-rendering="crispEdges">
<rect x="1693" y="85" width="36" height="11" fill="#ff0000"/>
<rect x="6" y="88" width="6" height="6" fill="#ff0000"/>
<rect x="8" y="90" width="2" height="2" fill="#fff"/>
<rect x="1685" y="88" width="6" height="6" fill="#ff0000"/>
<rect x="1687" y="90" width="2" height="2" fill="#fff"/>
<rect x="1693" y="141" width="36" height="11" fill="#ff0000"/>
<rect x="1693" y="219" width="36" height="11" fill="#32cd32"/>
<rect x="6" y="222" width="6" height="6" fill="#32cd32"/>
<rect x="8" y="224" width="2" height="2" fill="#fff"/>
<rect x="1685" y="222" width="6" height="6" fill="#32cd32"/>
<rect x="1687" y="224" width="2" height="2" fill="#fff"/>
<rect x="1693" y="295" width="36" height="11" fill="#4169e1"/>
<rect x="6" y="298" width="6" height="6" fill="#4169e1"/>
<rect x="8" y="300" width="2" height="2" fill="#fff"/>
<rect x="1685" y="298" width="6" height="6" fill="#4169e1"/>
<rect x="1687" y="300" width="2" height="2" fill="#fff"/>
<rect x="1693" y="354" width="36" height="11" fill="#4169e1"/>
<rect x="1693" y="408" width="36" height="11" fill="#4169e1"/>
</g>
<text transform="translate(1697 94.3) scale(0.925 1)" font-size="10.1" fill="#fff" stroke="#fff" stroke-width="0.13">4165.0</text>
<text transform="translate(1697 150.3) scale(0.925 1)" font-size="10.1" fill="#fff" stroke="#fff" stroke-width="0.13">4075.0</text>
<text transform="translate(1697 228.3) scale(0.925 1)" font-size="10.1" fill="#fff" stroke="#fff" stroke-width="0.13">3950.0</text>
<text transform="translate(1697 304.3) scale(0.925 1)" font-size="10.1" fill="#fff" stroke="#fff" stroke-width="0.13">3830.0</text>
<text transform="translate(1697 363.3) scale(0.925 1)" font-size="10.1" fill="#fff" stroke="#fff" stroke-width="0.13">3735.0</text>
<text transform="translate(1697 417.3) scale(0.925 1)" font-size="10.1" fill="#fff" stroke="#fff" stroke-width="0.13">3650.0</text>
<g shape-rendering="crispEdges">
<rect x="1348" y="38" width="9" height="1" fill="#778899"/>
<rect x="1349" y="39" width="7" height="1" fill="#778899"/>
<rect x="1350" y="40" width="5" height="1" fill="#778899"/>
<rect x="1351" y="41" width="3" height="1" fill="#778899"/>
<rect x="1352" y="42" width="1" height="1" fill="#778899"/>
</g>
<path d="M9 44 L16.4 44 L12.7 48.2 Z" fill="#000"/>
<text transform="translate(21 49.4) scale(0.925 1)" font-size="10.1" fill="#000" stroke="#000" stroke-width="0.13" textLength="70.8" lengthAdjust="spacingAndGlyphs">CHINA300-,H4</text>
<text transform="translate(92 49.4) scale(0.925 1)" font-size="10.1" fill="#000" stroke="#000" stroke-width="0.13" textLength="130.8" lengthAdjust="spacingAndGlyphs">3940.3 3963.0 3937.5 3952.9</text>
<text x="1271" y="500" font-size="39" fill="#ec1c24" textLength="285" lengthAdjust="spacingAndGlyphs" style="font-family:'Liberation Sans','Noto Sans CJK SC',sans-serif">多空转折点3950</text>
<g shape-rendering="crispEdges">
<rect x="6" y="583" width="1" height="8" fill="#c0c0c0"/>
<rect x="14" y="583" width="1" height="30" fill="#c0c0c0"/>
<rect x="22" y="583" width="1" height="49" fill="#c0c0c0"/>
<rect x="30" y="583" width="1" height="56" fill="#c0c0c0"/>
<rect x="38" y="583" width="1" height="60" fill="#c0c0c0"/>
<rect x="46" y="583" width="1" height="60" fill="#c0c0c0"/>
<rect x="54" y="583" width="1" height="60" fill="#c0c0c0"/>
<rect x="62" y="583" width="1" height="57" fill="#c0c0c0"/>
<rect x="70" y="583" width="1" height="52" fill="#c0c0c0"/>
<rect x="78" y="583" width="1" height="49" fill="#c0c0c0"/>
<rect x="86" y="583" width="1" height="44" fill="#c0c0c0"/>
<rect x="94" y="583" width="1" height="41" fill="#c0c0c0"/>
<rect x="102" y="583" width="1" height="37" fill="#c0c0c0"/>
<rect x="110" y="583" width="1" height="33" fill="#c0c0c0"/>
<rect x="118" y="583" width="1" height="28" fill="#c0c0c0"/>
<rect x="126" y="583" width="1" height="23" fill="#c0c0c0"/>
<rect x="134" y="583" width="1" height="19" fill="#c0c0c0"/>
<rect x="142" y="583" width="1" height="16" fill="#c0c0c0"/>
<rect x="150" y="583" width="1" height="13" fill="#c0c0c0"/>
<rect x="158" y="583" width="1" height="10" fill="#c0c0c0"/>
<rect x="166" y="583" width="1" height="6" fill="#c0c0c0"/>
<rect x="174" y="583" width="1" height="1" fill="#c0c0c0"/>
<rect x="182" y="579" width="1" height="5" fill="#c0c0c0"/>
<rect x="190" y="576" width="1" height="8" fill="#c0c0c0"/>
<rect x="198" y="574" width="1" height="10" fill="#c0c0c0"/>
<rect x="206" y="572" width="1" height="12" fill="#c0c0c0"/>
<rect x="214" y="570" width="1" height="14" fill="#c0c0c0"/>
<rect x="222" y="568" width="1" height="16" fill="#c0c0c0"/>
<rect x="230" y="564" width="1" height="20" fill="#c0c0c0"/>
<rect x="238" y="560" width="1" height="24" fill="#c0c0c0"/>
<rect x="246" y="557" width="1" height="27" fill="#c0c0c0"/>
<rect x="254" y="557" width="1" height="27" fill="#c0c0c0"/>
<rect x="262" y="557" width="1" height="27" fill="#c0c0c0"/>
<rect x="270" y="560" width="1" height="24" fill="#c0c0c0"/>
<rect x="278" y="561" width="1" height="23" fill="#c0c0c0"/>
<rect x="286" y="561" width="1" height="23" fill="#c0c0c0"/>
<rect x="294" y="564" width="1" height="20" fill="#c0c0c0"/>
<rect x="302" y="565" width="1" height="19" fill="#c0c0c0"/>
<rect x="310" y="567" width="1" height="17" fill="#c0c0c0"/>
<rect x="318" y="576" width="1" height="8" fill="#c0c0c0"/>
<rect x="326" y="583" width="1" height="1" fill="#c0c0c0"/>
<rect x="334" y="582" width="1" height="2" fill="#c0c0c0"/>
<rect x="342" y="582" width="1" height="2" fill="#c0c0c0"/>
<rect x="350" y="580" width="1" height="4" fill="#c0c0c0"/>
<rect x="358" y="579" width="1" height="5" fill="#c0c0c0"/>
<rect x="366" y="578" width="1" height="6" fill="#c0c0c0"/>
<rect x="374" y="578" width="1" height="6" fill="#c0c0c0"/>
<rect x="382" y="573" width="1" height="11" fill="#c0c0c0"/>
<rect x="390" y="569" width="1" height="15" fill="#c0c0c0"/>
<rect x="398" y="568" width="1" height="16" fill="#c0c0c0"/>
<rect x="406" y="568" width="1" height="16" fill="#c0c0c0"/>
<rect x="414" y="575" width="1" height="9" fill="#c0c0c0"/>
<rect x="422" y="581" width="1" height="3" fill="#c0c0c0"/>
<rect x="430" y="583" width="1" height="1" fill="#c0c0c0"/>
<rect x="438" y="583" width="1" height="1" fill="#c0c0c0"/>
<rect x="446" y="583" width="1" height="1" fill="#c0c0c0"/>
<rect x="454" y="583" width="1" height="1" fill="#c0c0c0"/>
<rect x="462" y="583" width="1" height="8" fill="#c0c0c0"/>
<rect x="470" y="583" width="1" height="11" fill="#c0c0c0"/>
<rect x="478" y="583" width="1" height="22" fill="#c0c0c0"/>
<rect x="486" y="583" width="1" height="26" fill="#c0c0c0"/>
<rect x="494" y="583" width="1" height="30" fill="#c0c0c0"/>
<rect x="502" y="583" width="1" height="40" fill="#c0c0c0"/>
<rect x="510" y="583" width="1" height="45" fill="#c0c0c0"/>
<rect x="518" y="583" width="1" height="52" fill="#c0c0c0"/>
<rect x="526" y="583" width="1" height="52" fill="#c0c0c0"/>
<rect x="534" y="583" width="1" height="60" fill="#c0c0c0"/>
<rect x="542" y="583" width="1" height="69" fill="#c0c0c0"/>
<rect x="550" y="583" width="1" height="73" fill="#c0c0c0"/>
<rect x="558" y="583" width="1" height="74" fill="#c0c0c0"/>
<rect x="566" y="583" width="1" height="73" fill="#c0c0c0"/>
<rect x="574" y="583" width="1" height="73" fill="#c0c0c0"/>
<rect x="582" y="583" width="1" height="74" fill="#c0c0c0"/>
<rect x="590" y="583" width="1" height="72" fill="#c0c0c0"/>
<rect x="598" y="583" width="1" height="69" fill="#c0c0c0"/>
<rect x="606" y="583" width="1" height="62" fill="#c0c0c0"/>
<rect x="614" y="583" width="1" height="56" fill="#c0c0c0"/>
<rect x="622" y="583" width="1" height="51" fill="#c0c0c0"/>
<rect x="630" y="583" width="1" height="44" fill="#c0c0c0"/>
<rect x="638" y="583" width="1" height="38" fill="#c0c0c0"/>
<rect x="646" y="583" width="1" height="35" fill="#c0c0c0"/>
<rect x="654" y="583" width="1" height="34" fill="#c0c0c0"/>
<rect x="662" y="583" width="1" height="31" fill="#c0c0c0"/>
<rect x="670" y="583" width="1" height="28" fill="#c0c0c0"/>
<rect x="678" y="583" width="1" height="26" fill="#c0c0c0"/>
<rect x="686" y="583" width="1" height="24" fill="#c0c0c0"/>
<rect x="694" y="583" width="1" height="22" fill="#c0c0c0"/>
<rect x="702" y="583" width="1" height="20" fill="#c0c0c0"/>
<rect x="710" y="583" width="1" height="17" fill="#c0c0c0"/>
<rect x="718" y="583" width="1" height="13" fill="#c0c0c0"/>
<rect x="726" y="583" width="1" height="12" fill="#c0c0c0"/>
<rect x="734" y="583" width="1" height="7" fill="#c0c0c0"/>
<rect x="742" y="583" width="1" height="1" fill="#c0c0c0"/>
<rect x="758" y="582" width="1" height="2" fill="#c0c0c0"/>
<rect x="766" y="579" width="1" height="5" fill="#c0c0c0"/>
<rect x="774" y="578" width="1" height="6" fill="#c0c0c0"/>
<rect x="782" y="576" width="1" height="8" fill="#c0c0c0"/>
<rect x="790" y="576" width="1" height="8" fill="#c0c0c0"/>
<rect x="798" y="576" width="1" height="8" fill="#c0c0c0"/>
<rect x="806" y="576" width="1" height="8" fill="#c0c0c0"/>
<rect x="814" y="576" width="1" height="8" fill="#c0c0c0"/>
<rect x="822" y="574" width="1" height="10" fill="#c0c0c0"/>
<rect x="830" y="574" width="1" height="10" fill="#c0c0c0"/>
<rect x="838" y="574" width="1" height="10" fill="#c0c0c0"/>
<rect x="846" y="574" width="1" height="10" fill="#c0c0c0"/>
<rect x="854" y="574" width="1" height="10" fill="#c0c0c0"/>
<rect x="862" y="573" width="1" height="11" fill="#c0c0c0"/>
<rect x="870" y="574" width="1" height="10" fill="#c0c0c0"/>
<rect x="878" y="574" width="1" height="10" fill="#c0c0c0"/>
<rect x="886" y="573" width="1" height="11" fill="#c0c0c0"/>
<rect x="894" y="575" width="1" height="9" fill="#c0c0c0"/>
<rect x="902" y="578" width="1" height="6" fill="#c0c0c0"/>
<rect x="910" y="579" width="1" height="5" fill="#c0c0c0"/>
<rect x="918" y="578" width="1" height="6" fill="#c0c0c0"/>
<rect x="926" y="578" width="1" height="6" fill="#c0c0c0"/>
<rect x="934" y="578" width="1" height="6" fill="#c0c0c0"/>
<rect x="942" y="578" width="1" height="6" fill="#c0c0c0"/>
<rect x="950" y="579" width="1" height="5" fill="#c0c0c0"/>
<rect x="958" y="578" width="1" height="6" fill="#c0c0c0"/>
<rect x="966" y="576" width="1" height="8" fill="#c0c0c0"/>
<rect x="974" y="576" width="1" height="8" fill="#c0c0c0"/>
<rect x="982" y="576" width="1" height="8" fill="#c0c0c0"/>
<rect x="990" y="575" width="1" height="9" fill="#c0c0c0"/>
<rect x="998" y="574" width="1" height="10" fill="#c0c0c0"/>
<rect x="1006" y="570" width="1" height="14" fill="#c0c0c0"/>
<rect x="1014" y="567" width="1" height="17" fill="#c0c0c0"/>
<rect x="1022" y="565" width="1" height="19" fill="#c0c0c0"/>
<rect x="1030" y="564" width="1" height="20" fill="#c0c0c0"/>
<rect x="1038" y="563" width="1" height="21" fill="#c0c0c0"/>
<rect x="1046" y="562" width="1" height="22" fill="#c0c0c0"/>
<rect x="1054" y="560" width="1" height="24" fill="#c0c0c0"/>
<rect x="1062" y="559" width="1" height="25" fill="#c0c0c0"/>
<rect x="1070" y="558" width="1" height="26" fill="#c0c0c0"/>
<rect x="1078" y="558" width="1" height="26" fill="#c0c0c0"/>
<rect x="1086" y="559" width="1" height="25" fill="#c0c0c0"/>
<rect x="1094" y="559" width="1" height="25" fill="#c0c0c0"/>
<rect x="1102" y="559" width="1" height="25" fill="#c0c0c0"/>
<rect x="1110" y="558" width="1" height="26" fill="#c0c0c0"/>
<rect x="1118" y="564" width="1" height="20" fill="#c0c0c0"/>
<rect x="1126" y="567" width="1" height="17" fill="#c0c0c0"/>
<rect x="1134" y="570" width="1" height="14" fill="#c0c0c0"/>
<rect x="1142" y="573" width="1" height="11" fill="#c0c0c0"/>
<rect x="1150" y="574" width="1" height="10" fill="#c0c0c0"/>
<rect x="1158" y="575" width="1" height="9" fill="#c0c0c0"/>
<rect x="1166" y="575" width="1" height="9" fill="#c0c0c0"/>
<rect x="1174" y="576" width="1" height="8" fill="#c0c0c0"/>
<rect x="1182" y="576" width="1" height="8" fill="#c0c0c0"/>
<rect x="1190" y="578" width="1" height="6" fill="#c0c0c0"/>
<rect x="1198" y="578" width="1" height="6" fill="#c0c0c0"/>
<rect x="1206" y="580" width="1" height="4" fill="#c0c0c0"/>
<rect x="1222" y="583" width="1" height="6" fill="#c0c0c0"/>
<rect x="1230" y="583" width="1" height="8" fill="#c0c0c0"/>
<rect x="1238" y="583" width="1" height="12" fill="#c0c0c0"/>
<rect x="1246" y="583" width="1" height="12" fill="#c0c0c0"/>
<rect x="1254" y="583" width="1" height="12" fill="#c0c0c0"/>
<rect x="1262" y="583" width="1" height="12" fill="#c0c0c0"/>
<rect x="1270" y="583" width="1" height="13" fill="#c0c0c0"/>
<rect x="1278" y="583" width="1" height="14" fill="#c0c0c0"/>
<rect x="1286" y="583" width="1" height="13" fill="#c0c0c0"/>
<rect x="1294" y="583" width="1" height="13" fill="#c0c0c0"/>
<rect x="1302" y="583" width="1" height="12" fill="#c0c0c0"/>
<rect x="1310" y="583" width="1" height="5" fill="#c0c0c0"/>
<rect x="1326" y="580" width="1" height="4" fill="#c0c0c0"/>
<rect x="1334" y="576" width="1" height="8" fill="#c0c0c0"/>
</g>
<polyline points="6.6,577.3 13.8,581.1 22.5,587.7 30.3,596.4 38,604.5 45.8,611.4 54.5,619.2 62.3,625.3 70,631 77.9,635.1 86.5,636.2 94.3,635.8 103,634.4 110.7,630.4 119.4,626.1 127.2,622.3 135,618.9 143.6,614.4 151.4,610.6 159.2,606.7 167,602.8 174.7,598.8 182.5,595.3 190.3,591.5 199,587.7 205.9,584.3 213.7,582 222.3,578.5 230.1,575.6 238.8,571.6 246.5,568.2 254.3,566.4 263,564.2 270.8,562.1 278.5,561.2 287.2,560.4 295.8,559.3 300,559.5 307,560 313.8,561.4 319,562.8 326,565.6 332,567.3 338,569.4 343.3,570.4 350.2,572.5 355.4,573.4 361.4,575.6 367.5,576.5 373.5,577.3 379.6,578.2 384.8,578.5 390.8,577.2 396.9,575.4 403.8,574.6 409,574.2 415,573.4 422.8,573.4 428,574.2 435,574.6 445.3,575.4 452.2,576.5 457.4,577.3 463.5,579.8 469.5,582.4 475.6,585.1 481.7,587.7 487.7,591 493.8,593.6 499.8,596.7 505.9,600.5 512,604.2 518,609.2 524,613.5 530.1,617.1 535.6,620.9 541.7,625.6 547.8,630.1 553.8,634.3 559.9,638.2 565.6,641.7 571.6,644.8 577.7,647.8 583.7,649.5 590.7,652.1 596.7,652.6 600,653.5 607,653.3 613.8,652.1 620,650.3 626,648.1 632,645.5 638,642.6 644.1,639.4 650.2,636 655.4,632.7 661.4,629.9 667.5,626.1 673.5,622.7 679.6,620.1 685.6,617.1 691.7,615.4 697.8,613.1 703.8,610.6 709.9,609.3 715.9,608 722,605.7 728,603.6 734.1,602.2 740.1,600.5 746.2,598.1 752.2,595.8 757.8,593.3 763.5,591.5 769.6,589.4 775.6,586.9 781.7,584.6 787.7,582.9 793.8,581.5 799.8,580.3 805.9,578.2 811.9,577.7 818,576.8 824,576 830.1,575.4 836.2,574.7 842.2,574.6 854.3,574.6 863,574.2 869.9,573.4 876.8,573 883.7,572.5 890.7,572.5 896.7,573 900,573.4 907.8,574.6 919,574.7 926,575.6 937.2,575.6 949.3,576.5 956.2,577.5 967.5,577.5 979.6,577.5 991.7,577.3 997.8,576.3 1003.8,575.6 1009.9,575.4 1015,574.2 1021.1,572.5 1028,571.6 1034.1,570.4 1040.1,569.6 1046.2,568.5 1052.2,567 1057.8,565.6 1063.5,564.4 1069.6,562.5 1075.6,561.6 1081.7,561.2 1087.7,560.4 1093.8,559.9 1100.7,559.5 1105.9,558.7 1111.9,558.3 1118,559.5 1130.1,559.5 1136.2,560.4 1142.2,562.5 1148.3,563.3 1154.3,565.6 1159.5,566.4 1166.4,568.5 1171.6,569.6 1177.7,571.6 1183.7,572.5 1190.7,573.4 1196.7,574.6 1202.1,575.6 1207.3,576.5 1213.3,577.3 1219.4,578 1225.4,579.8 1231.5,580.6 1237.5,582.5 1243.6,583.4 1249.7,585.5 1255.7,586.7 1261.8,588.6 1267.8,589.4 1273.9,591.5 1279.9,592.4 1286,594.5 1292,594.5 1298.1,594.6 1303.3,595.5 1309.3,594.5 1315.4,593.6 1321.5,592.4 1327.5,591.2 1334,589.4" fill="none" stroke="#ff0000" stroke-width="1" stroke-dasharray="3 3" shape-rendering="crispEdges"/>
<text transform="translate(10 562.3) scale(0.925 1)" font-size="10.1" fill="#000" stroke="#000" stroke-width="0.13" textLength="125.4" lengthAdjust="spacingAndGlyphs">MACD(12,26,9) 13.42 -9.85</text>
<text transform="translate(1695 560) scale(0.925 1)" font-size="10.1" fill="#000" stroke="#000" stroke-width="0.13">56.71</text>
<text transform="translate(1697 587) scale(0.925 1)" font-size="10.1" fill="#000" stroke="#000" stroke-width="0.13">0.00</text>
<text transform="translate(1695 660) scale(0.925 1)" font-size="10.1" fill="#000" stroke="#000" stroke-width="0.13">-137.01</text>
<g shape-rendering="crispEdges">
<rect x="7" y="700" width="3" height="1" fill="#c0c0c0"/>
<rect x="7" y="744" width="3" height="1" fill="#c0c0c0"/>
<rect x="13" y="700" width="3" height="1" fill="#c0c0c0"/>
<rect x="13" y="744" width="3" height="1" fill="#c0c0c0"/>
<rect x="19" y="700" width="3" height="1" fill="#c0c0c0"/>
<rect x="19" y="744" width="3" height="1" fill="#c0c0c0"/>
<rect x="25" y="700" width="3" height="1" fill="#c0c0c0"/>
<rect x="25" y="744" width="3" height="1" fill="#c0c0c0"/>
<rect x="31" y="700" width="3" height="1" fill="#c0c0c0"/>
<rect x="31" y="744" width="3" height="1" fill="#c0c0c0"/>
<rect x="37" y="700" width="3" height="1" fill="#c0c0c0"/>
<rect x="37" y="744" width="3" height="1" fill="#c0c0c0"/>
<rect x="43" y="700" width="3" height="1" fill="#c0c0c0"/>
<rect x="43" y="744" width="3" height="1" fill="#c0c0c0"/>
<rect x="49" y="700" width="3" height="1" fill="#c0c0c0"/>
<rect x="49" y="744" width="3" height="1" fill="#c0c0c0"/>
<rect x="55" y="700" width="3" height="1" fill="#c0c0c0"/>
<rect x="55" y="744" width="3" height="1" fill="#c0c0c0"/>
<rect x="61" y="700" width="3" height="1" fill="#c0c0c0"/>
<rect x="61" y="744" width="3" height="1" fill="#c0c0c0"/>
<rect x="67" y="700" width="3" height="1" fill="#c0c0c0"/>
<rect x="67" y="744" width="3" height="1" fill="#c0c0c0"/>
<rect x="73" y="700" width="3" height="1" fill="#c0c0c0"/>
<rect x="73" y="744" width="3" height="1" fill="#c0c0c0"/>
<rect x="79" y="700" width="3" height="1" fill="#c0c0c0"/>
<rect x="79" y="744" width="3" height="1" fill="#c0c0c0"/>
<rect x="85" y="700" width="3" height="1" fill="#c0c0c0"/>
<rect x="85" y="744" width="3" height="1" fill="#c0c0c0"/>
<rect x="91" y="700" width="3" height="1" fill="#c0c0c0"/>
<rect x="91" y="744" width="3" height="1" fill="#c0c0c0"/>
<rect x="97" y="700" width="3" height="1" fill="#c0c0c0"/>
<rect x="97" y="744" width="3" height="1" fill="#c0c0c0"/>
<rect x="103" y="700" width="3" height="1" fill="#c0c0c0"/>
<rect x="103" y="744" width="3" height="1" fill="#c0c0c0"/>
<rect x="109" y="700" width="3" height="1" fill="#c0c0c0"/>
<rect x="109" y="744" width="3" height="1" fill="#c0c0c0"/>
<rect x="115" y="700" width="3" height="1" fill="#c0c0c0"/>
<rect x="115" y="744" width="3" height="1" fill="#c0c0c0"/>
<rect x="121" y="700" width="3" height="1" fill="#c0c0c0"/>
<rect x="121" y="744" width="3" height="1" fill="#c0c0c0"/>
<rect x="127" y="700" width="3" height="1" fill="#c0c0c0"/>
<rect x="127" y="744" width="3" height="1" fill="#c0c0c0"/>
<rect x="133" y="700" width="3" height="1" fill="#c0c0c0"/>
<rect x="133" y="744" width="3" height="1" fill="#c0c0c0"/>
<rect x="139" y="700" width="3" height="1" fill="#c0c0c0"/>
<rect x="139" y="744" width="3" height="1" fill="#c0c0c0"/>
<rect x="145" y="700" width="3" height="1" fill="#c0c0c0"/>
<rect x="145" y="744" width="3" height="1" fill="#c0c0c0"/>
<rect x="151" y="700" width="3" height="1" fill="#c0c0c0"/>
<rect x="151" y="744" width="3" height="1" fill="#c0c0c0"/>
<rect x="157" y="700" width="3" height="1" fill="#c0c0c0"/>
<rect x="157" y="744" width="3" height="1" fill="#c0c0c0"/>
<rect x="163" y="700" width="3" height="1" fill="#c0c0c0"/>
<rect x="163" y="744" width="3" height="1" fill="#c0c0c0"/>
<rect x="169" y="700" width="3" height="1" fill="#c0c0c0"/>
<rect x="169" y="744" width="3" height="1" fill="#c0c0c0"/>
<rect x="175" y="700" width="3" height="1" fill="#c0c0c0"/>
<rect x="175" y="744" width="3" height="1" fill="#c0c0c0"/>
<rect x="181" y="700" width="3" height="1" fill="#c0c0c0"/>
<rect x="181" y="744" width="3" height="1" fill="#c0c0c0"/>
<rect x="187" y="700" width="3" height="1" fill="#c0c0c0"/>
<rect x="187" y="744" width="3" height="1" fill="#c0c0c0"/>
<rect x="193" y="700" width="3" height="1" fill="#c0c0c0"/>
<rect x="193" y="744" width="3" height="1" fill="#c0c0c0"/>
<rect x="199" y="700" width="3" height="1" fill="#c0c0c0"/>
<rect x="199" y="744" width="3" height="1" fill="#c0c0c0"/>
<rect x="205" y="700" width="3" height="1" fill="#c0c0c0"/>
<rect x="205" y="744" width="3" height="1" fill="#c0c0c0"/>
<rect x="211" y="700" width="3" height="1" fill="#c0c0c0"/>
<rect x="211" y="744" width="3" height="1" fill="#c0c0c0"/>
<rect x="217" y="700" width="3" height="1" fill="#c0c0c0"/>
<rect x="217" y="744" width="3" height="1" fill="#c0c0c0"/>
<rect x="223" y="700" width="3" height="1" fill="#c0c0c0"/>
<rect x="223" y="744" width="3" height="1" fill="#c0c0c0"/>
<rect x="229" y="700" width="3" height="1" fill="#c0c0c0"/>
<rect x="229" y="744" width="3" height="1" fill="#c0c0c0"/>
<rect x="235" y="700" width="3" height="1" fill="#c0c0c0"/>
<rect x="235" y="744" width="3" height="1" fill="#c0c0c0"/>
<rect x="241" y="700" width="3" height="1" fill="#c0c0c0"/>
<rect x="241" y="744" width="3" height="1" fill="#c0c0c0"/>
<rect x="247" y="700" width="3" height="1" fill="#c0c0c0"/>
<rect x="247" y="744" width="3" height="1" fill="#c0c0c0"/>
<rect x="253" y="700" width="3" height="1" fill="#c0c0c0"/>
<rect x="253" y="744" width="3" height="1" fill="#c0c0c0"/>
<rect x="259" y="700" width="3" height="1" fill="#c0c0c0"/>
<rect x="259" y="744" width="3" height="1" fill="#c0c0c0"/>
<rect x="265" y="700" width="3" height="1" fill="#c0c0c0"/>
<rect x="265" y="744" width="3" height="1" fill="#c0c0c0"/>
<rect x="271" y="700" width="3" height="1" fill="#c0c0c0"/>
<rect x="271" y="744" width="3" height="1" fill="#c0c0c0"/>
<rect x="277" y="700" width="3" height="1" fill="#c0c0c0"/>
<rect x="277" y="744" width="3" height="1" fill="#c0c0c0"/>
<rect x="283" y="700" width="3" height="1" fill="#c0c0c0"/>
<rect x="283" y="744" width="3" height="1" fill="#c0c0c0"/>
<rect x="289" y="700" width="3" height="1" fill="#c0c0c0"/>
<rect x="289" y="744" width="3" height="1" fill="#c0c0c0"/>
<rect x="295" y="700" width="3" height="1" fill="#c0c0c0"/>
<rect x="295" y="744" width="3" height="1" fill="#c0c0c0"/>
<rect x="301" y="700" width="3" height="1" fill="#c0c0c0"/>
<rect x="301" y="744" width="3" height="1" fill="#c0c0c0"/>
<rect x="307" y="700" width="3" height="1" fill="#c0c0c0"/>
<rect x="307" y="744" width="3" height="1" fill="#c0c0c0"/>
<rect x="313" y="700" width="3" height="1" fill="#c0c0c0"/>
<rect x="313" y="744" width="3" height="1" fill="#c0c0c0"/>
<rect x="319" y="700" width="3" height="1" fill="#c0c0c0"/>
<rect x="319" y="744" width="3" height="1" fill="#c0c0c0"/>
<rect x="325" y="700" width="3" height="1" fill="#c0c0c0"/>
<rect x="325" y="744" width="3" height="1" fill="#c0c0c0"/>
<rect x="331" y="700" width="3" height="1" fill="#c0c0c0"/>
<rect x="331" y="744" width="3" height="1" fill="#c0c0c0"/>
<rect x="337" y="700" width="3" height="1" fill="#c0c0c0"/>
<rect x="337" y="744" width="3" height="1" fill="#c0c0c0"/>
<rect x="343" y="700" width="3" height="1" fill="#c0c0c0"/>
<rect x="343" y="744" width="3" height="1" fill="#c0c0c0"/>
<rect x="349" y="700" width="3" height="1" fill="#c0c0c0"/>
<rect x="349" y="744" width="3" height="1" fill="#c0c0c0"/>
<rect x="355" y="700" width="3" height="1" fill="#c0c0c0"/>
<rect x="355" y="744" width="3" height="1" fill="#c0c0c0"/>
<rect x="361" y="700" width="3" height="1" fill="#c0c0c0"/>
<rect x="361" y="744" width="3" height="1" fill="#c0c0c0"/>
<rect x="367" y="700" width="3" height="1" fill="#c0c0c0"/>
<rect x="367" y="744" width="3" height="1" fill="#c0c0c0"/>
<rect x="373" y="700" width="3" height="1" fill="#c0c0c0"/>
<rect x="373" y="744" width="3" height="1" fill="#c0c0c0"/>
<rect x="379" y="700" width="3" height="1" fill="#c0c0c0"/>
<rect x="379" y="744" width="3" height="1" fill="#c0c0c0"/>
<rect x="385" y="700" width="3" height="1" fill="#c0c0c0"/>
<rect x="385" y="744" width="3" height="1" fill="#c0c0c0"/>
<rect x="391" y="700" width="3" height="1" fill="#c0c0c0"/>
<rect x="391" y="744" width="3" height="1" fill="#c0c0c0"/>
<rect x="397" y="700" width="3" height="1" fill="#c0c0c0"/>
<rect x="397" y="744" width="3" height="1" fill="#c0c0c0"/>
<rect x="403" y="700" width="3" height="1" fill="#c0c0c0"/>
<rect x="403" y="744" width="3" height="1" fill="#c0c0c0"/>
<rect x="409" y="700" width="3" height="1" fill="#c0c0c0"/>
<rect x="409" y="744" width="3" height="1" fill="#c0c0c0"/>
<rect x="415" y="700" width="3" height="1" fill="#c0c0c0"/>
<rect x="415" y="744" width="3" height="1" fill="#c0c0c0"/>
<rect x="421" y="700" width="3" height="1" fill="#c0c0c0"/>
<rect x="421" y="744" width="3" height="1" fill="#c0c0c0"/>
<rect x="427" y="700" width="3" height="1" fill="#c0c0c0"/>
<rect x="427" y="744" width="3" height="1" fill="#c0c0c0"/>
<rect x="433" y="700" width="3" height="1" fill="#c0c0c0"/>
<rect x="433" y="744" width="3" height="1" fill="#c0c0c0"/>
<rect x="439" y="700" width="3" height="1" fill="#c0c0c0"/>
<rect x="439" y="744" width="3" height="1" fill="#c0c0c0"/>
<rect x="445" y="700" width="3" height="1" fill="#c0c0c0"/>
<rect x="445" y="744" width="3" height="1" fill="#c0c0c0"/>
<rect x="451" y="700" width="3" height="1" fill="#c0c0c0"/>
<rect x="451" y="744" width="3" height="1" fill="#c0c0c0"/>
<rect x="457" y="700" width="3" height="1" fill="#c0c0c0"/>
<rect x="457" y="744" width="3" height="1" fill="#c0c0c0"/>
<rect x="463" y="700" width="3" height="1" fill="#c0c0c0"/>
<rect x="463" y="744" width="3" height="1" fill="#c0c0c0"/>
<rect x="469" y="700" width="3" height="1" fill="#c0c0c0"/>
<rect x="469" y="744" width="3" height="1" fill="#c0c0c0"/>
<rect x="475" y="700" width="3" height="1" fill="#c0c0c0"/>
<rect x="475" y="744" width="3" height="1" fill="#c0c0c0"/>
<rect x="481" y="700" width="3" height="1" fill="#c0c0c0"/>
<rect x="481" y="744" width="3" height="1" fill="#c0c0c0"/>
<rect x="487" y="700" width="3" height="1" fill="#c0c0c0"/>
<rect x="487" y="744" width="3" height="1" fill="#c0c0c0"/>
<rect x="493" y="700" width="3" height="1" fill="#c0c0c0"/>
<rect x="493" y="744" width="3" height="1" fill="#c0c0c0"/>
<rect x="499" y="700" width="3" height="1" fill="#c0c0c0"/>
<rect x="499" y="744" width="3" height="1" fill="#c0c0c0"/>
<rect x="505" y="700" width="3" height="1" fill="#c0c0c0"/>
<rect x="505" y="744" width="3" height="1" fill="#c0c0c0"/>
<rect x="511" y="700" width="3" height="1" fill="#c0c0c0"/>
<rect x="511" y="744" width="3" height="1" fill="#c0c0c0"/>
<rect x="517" y="700" width="3" height="1" fill="#c0c0c0"/>
<rect x="517" y="744" width="3" height="1" fill="#c0c0c0"/>
<rect x="523" y="700" width="3" height="1" fill="#c0c0c0"/>
<rect x="523" y="744" width="3" height="1" fill="#c0c0c0"/>
<rect x="529" y="700" width="3" height="1" fill="#c0c0c0"/>
<rect x="529" y="744" width="3" height="1" fill="#c0c0c0"/>
<rect x="535" y="700" width="3" height="1" fill="#c0c0c0"/>
<rect x="535" y="744" width="3" height="1" fill="#c0c0c0"/>
<rect x="541" y="700" width="3" height="1" fill="#c0c0c0"/>
<rect x="541" y="744" width="3" height="1" fill="#c0c0c0"/>
<rect x="547" y="700" width="3" height="1" fill="#c0c0c0"/>
<rect x="547" y="744" width="3" height="1" fill="#c0c0c0"/>
<rect x="553" y="700" width="3" height="1" fill="#c0c0c0"/>
<rect x="553" y="744" width="3" height="1" fill="#c0c0c0"/>
<rect x="559" y="700" width="3" height="1" fill="#c0c0c0"/>
<rect x="559" y="744" width="3" height="1" fill="#c0c0c0"/>
<rect x="565" y="700" width="3" height="1" fill="#c0c0c0"/>
<rect x="565" y="744" width="3" height="1" fill="#c0c0c0"/>
<rect x="571" y="700" width="3" height="1" fill="#c0c0c0"/>
<rect x="571" y="744" width="3" height="1" fill="#c0c0c0"/>
<rect x="577" y="700" width="3" height="1" fill="#c0c0c0"/>
<rect x="577" y="744" width="3" height="1" fill="#c0c0c0"/>
<rect x="583" y="700" width="3" height="1" fill="#c0c0c0"/>
<rect x="583" y="744" width="3" height="1" fill="#c0c0c0"/>
<rect x="589" y="700" width="3" height="1" fill="#c0c0c0"/>
<rect x="589" y="744" width="3" height="1" fill="#c0c0c0"/>
<rect x="595" y="700" width="3" height="1" fill="#c0c0c0"/>
<rect x="595" y="744" width="3" height="1" fill="#c0c0c0"/>
<rect x="601" y="700" width="3" height="1" fill="#c0c0c0"/>
<rect x="601" y="744" width="3" height="1" fill="#c0c0c0"/>
<rect x="607" y="700" width="3" height="1" fill="#c0c0c0"/>
<rect x="607" y="744" width="3" height="1" fill="#c0c0c0"/>
<rect x="613" y="700" width="3" height="1" fill="#c0c0c0"/>
<rect x="613" y="744" width="3" height="1" fill="#c0c0c0"/>
<rect x="619" y="700" width="3" height="1" fill="#c0c0c0"/>
<rect x="619" y="744" width="3" height="1" fill="#c0c0c0"/>
<rect x="625" y="700" width="3" height="1" fill="#c0c0c0"/>
<rect x="625" y="744" width="3" height="1" fill="#c0c0c0"/>
<rect x="631" y="700" width="3" height="1" fill="#c0c0c0"/>
<rect x="631" y="744" width="3" height="1" fill="#c0c0c0"/>
<rect x="637" y="700" width="3" height="1" fill="#c0c0c0"/>
<rect x="637" y="744" width="3" height="1" fill="#c0c0c0"/>
<rect x="643" y="700" width="3" height="1" fill="#c0c0c0"/>
<rect x="643" y="744" width="3" height="1" fill="#c0c0c0"/>
<rect x="649" y="700" width="3" height="1" fill="#c0c0c0"/>
<rect x="649" y="744" width="3" height="1" fill="#c0c0c0"/>
<rect x="655" y="700" width="3" height="1" fill="#c0c0c0"/>
<rect x="655" y="744" width="3" height="1" fill="#c0c0c0"/>
<rect x="661" y="700" width="3" height="1" fill="#c0c0c0"/>
<rect x="661" y="744" width="3" height="1" fill="#c0c0c0"/>
<rect x="667" y="700" width="3" height="1" fill="#c0c0c0"/>
<rect x="667" y="744" width="3" height="1" fill="#c0c0c0"/>
<rect x="673" y="700" width="3" height="1" fill="#c0c0c0"/>
<rect x="673" y="744" width="3" height="1" fill="#c0c0c0"/>
<rect x="679" y="700" width="3" height="1" fill="#c0c0c0"/>
<rect x="679" y="744" width="3" height="1" fill="#c0c0c0"/>
<rect x="685" y="700" width="3" height="1" fill="#c0c0c0"/>
<rect x="685" y="744" width="3" height="1" fill="#c0c0c0"/>
<rect x="691" y="700" width="3" height="1" fill="#c0c0c0"/>
<rect x="691" y="744" width="3" height="1" fill="#c0c0c0"/>
<rect x="697" y="700" width="3" height="1" fill="#c0c0c0"/>
<rect x="697" y="744" width="3" height="1" fill="#c0c0c0"/>
<rect x="703" y="700" width="3" height="1" fill="#c0c0c0"/>
<rect x="703" y="744" width="3" height="1" fill="#c0c0c0"/>
<rect x="709" y="700" width="3" height="1" fill="#c0c0c0"/>
<rect x="709" y="744" width="3" height="1" fill="#c0c0c0"/>
<rect x="715" y="700" width="3" height="1" fill="#c0c0c0"/>
<rect x="715" y="744" width="3" height="1" fill="#c0c0c0"/>
<rect x="721" y="700" width="3" height="1" fill="#c0c0c0"/>
<rect x="721" y="744" width="3" height="1" fill="#c0c0c0"/>
<rect x="727" y="700" width="3" height="1" fill="#c0c0c0"/>
<rect x="727" y="744" width="3" height="1" fill="#c0c0c0"/>
<rect x="733" y="700" width="3" height="1" fill="#c0c0c0"/>
<rect x="733" y="744" width="3" height="1" fill="#c0c0c0"/>
<rect x="739" y="700" width="3" height="1" fill="#c0c0c0"/>
<rect x="739" y="744" width="3" height="1" fill="#c0c0c0"/>
<rect x="745" y="700" width="3" height="1" fill="#c0c0c0"/>
<rect x="745" y="744" width="3" height="1" fill="#c0c0c0"/>
<rect x="751" y="700" width="3" height="1" fill="#c0c0c0"/>
<rect x="751" y="744" width="3" height="1" fill="#c0c0c0"/>
<rect x="757" y="700" width="3" height="1" fill="#c0c0c0"/>
<rect x="757" y="744" width="3" height="1" fill="#c0c0c0"/>
<rect x="763" y="700" width="3" height="1" fill="#c0c0c0"/>
<rect x="763" y="744" width="3" height="1" fill="#c0c0c0"/>
<rect x="769" y="700" width="3" height="1" fill="#c0c0c0"/>
<rect x="769" y="744" width="3" height="1" fill="#c0c0c0"/>
<rect x="775" y="700" width="3" height="1" fill="#c0c0c0"/>
<rect x="775" y="744" width="3" height="1" fill="#c0c0c0"/>
<rect x="781" y="700" width="3" height="1" fill="#c0c0c0"/>
<rect x="781" y="744" width="3" height="1" fill="#c0c0c0"/>
<rect x="787" y="700" width="3" height="1" fill="#c0c0c0"/>
<rect x="787" y="744" width="3" height="1" fill="#c0c0c0"/>
<rect x="793" y="700" width="3" height="1" fill="#c0c0c0"/>
<rect x="793" y="744" width="3" height="1" fill="#c0c0c0"/>
<rect x="799" y="700" width="3" height="1" fill="#c0c0c0"/>
<rect x="799" y="744" width="3" height="1" fill="#c0c0c0"/>
<rect x="805" y="700" width="3" height="1" fill="#c0c0c0"/>
<rect x="805" y="744" width="3" height="1" fill="#c0c0c0"/>
<rect x="811" y="700" width="3" height="1" fill="#c0c0c0"/>
<rect x="811" y="744" width="3" height="1" fill="#c0c0c0"/>
<rect x="817" y="700" width="3" height="1" fill="#c0c0c0"/>
<rect x="817" y="744" width="3" height="1" fill="#c0c0c0"/>
<rect x="823" y="700" width="3" height="1" fill="#c0c0c0"/>
<rect x="823" y="744" width="3" height="1" fill="#c0c0c0"/>
<rect x="829" y="700" width="3" height="1" fill="#c0c0c0"/>
<rect x="829" y="744" width="3" height="1" fill="#c0c0c0"/>
<rect x="835" y="700" width="3" height="1" fill="#c0c0c0"/>
<rect x="835" y="744" width="3" height="1" fill="#c0c0c0"/>
<rect x="841" y="700" width="3" height="1" fill="#c0c0c0"/>
<rect x="841" y="744" width="3" height="1" fill="#c0c0c0"/>
<rect x="847" y="700" width="3" height="1" fill="#c0c0c0"/>
<rect x="847" y="744" width="3" height="1" fill="#c0c0c0"/>
<rect x="853" y="700" width="3" height="1" fill="#c0c0c0"/>
<rect x="853" y="744" width="3" height="1" fill="#c0c0c0"/>
<rect x="859" y="700" width="3" height="1" fill="#c0c0c0"/>
<rect x="859" y="744" width="3" height="1" fill="#c0c0c0"/>
<rect x="865" y="700" width="3" height="1" fill="#c0c0c0"/>
<rect x="865" y="744" width="3" height="1" fill="#c0c0c0"/>
<rect x="871" y="700" width="3" height="1" fill="#c0c0c0"/>
<rect x="871" y="744" width="3" height="1" fill="#c0c0c0"/>
<rect x="877" y="700" width="3" height="1" fill="#c0c0c0"/>
<rect x="877" y="744" width="3" height="1" fill="#c0c0c0"/>
<rect x="883" y="700" width="3" height="1" fill="#c0c0c0"/>
<rect x="883" y="744" width="3" height="1" fill="#c0c0c0"/>
<rect x="889" y="700" width="3" height="1" fill="#c0c0c0"/>
<rect x="889" y="744" width="3" height="1" fill="#c0c0c0"/>
<rect x="895" y="700" width="3" height="1" fill="#c0c0c0"/>
<rect x="895" y="744" width="3" height="1" fill="#c0c0c0"/>
<rect x="901" y="700" width="3" height="1" fill="#c0c0c0"/>
<rect x="901" y="744" width="3" height="1" fill="#c0c0c0"/>
<rect x="907" y="700" width="3" height="1" fill="#c0c0c0"/>
<rect x="907" y="744" width="3" height="1" fill="#c0c0c0"/>
<rect x="913" y="700" width="3" height="1" fill="#c0c0c0"/>
<rect x="913" y="744" width="3" height="1" fill="#c0c0c0"/>
<rect x="919" y="700" width="3" height="1" fill="#c0c0c0"/>
<rect x="919" y="744" width="3" height="1" fill="#c0c0c0"/>
<rect x="925" y="700" width="3" height="1" fill="#c0c0c0"/>
<rect x="925" y="744" width="3" height="1" fill="#c0c0c0"/>
<rect x="931" y="700" width="3" height="1" fill="#c0c0c0"/>
<rect x="931" y="744" width="3" height="1" fill="#c0c0c0"/>
<rect x="937" y="700" width="3" height="1" fill="#c0c0c0"/>
<rect x="937" y="744" width="3" height="1" fill="#c0c0c0"/>
<rect x="943" y="700" width="3" height="1" fill="#c0c0c0"/>
<rect x="943" y="744" width="3" height="1" fill="#c0c0c0"/>
<rect x="949" y="700" width="3" height="1" fill="#c0c0c0"/>
<rect x="949" y="744" width="3" height="1" fill="#c0c0c0"/>
<rect x="955" y="700" width="3" height="1" fill="#c0c0c0"/>
<rect x="955" y="744" width="3" height="1" fill="#c0c0c0"/>
<rect x="961" y="700" width="3" height="1" fill="#c0c0c0"/>
<rect x="961" y="744" width="3" height="1" fill="#c0c0c0"/>
<rect x="967" y="700" width="3" height="1" fill="#c0c0c0"/>
<rect x="967" y="744" width="3" height="1" fill="#c0c0c0"/>
<rect x="973" y="700" width="3" height="1" fill="#c0c0c0"/>
<rect x="973" y="744" width="3" height="1" fill="#c0c0c0"/>
<rect x="979" y="700" width="3" height="1" fill="#c0c0c0"/>
<rect x="979" y="744" width="3" height="1" fill="#c0c0c0"/>
<rect x="985" y="700" width="3" height="1" fill="#c0c0c0"/>
<rect x="985" y="744" width="3" height="1" fill="#c0c0c0"/>
<rect x="991" y="700" width="3" height="1" fill="#c0c0c0"/>
<rect x="991" y="744" width="3" height="1" fill="#c0c0c0"/>
<rect x="997" y="700" width="3" height="1" fill="#c0c0c0"/>
<rect x="997" y="744" width="3" height="1" fill="#c0c0c0"/>
<rect x="1003" y="700" width="3" height="1" fill="#c0c0c0"/>
<rect x="1003" y="744" width="3" height="1" fill="#c0c0c0"/>
<rect x="1009" y="700" width="3" height="1" fill="#c0c0c0"/>
<rect x="1009" y="744" width="3" height="1" fill="#c0c0c0"/>
<rect x="1015" y="700" width="3" height="1" fill="#c0c0c0"/>
<rect x="1015" y="744" width="3" height="1" fill="#c0c0c0"/>
<rect x="1021" y="700" width="3" height="1" fill="#c0c0c0"/>
<rect x="1021" y="744" width="3" height="1" fill="#c0c0c0"/>
<rect x="1027" y="700" width="3" height="1" fill="#c0c0c0"/>
<rect x="1027" y="744" width="3" height="1" fill="#c0c0c0"/>
<rect x="1033" y="700" width="3" height="1" fill="#c0c0c0"/>
<rect x="1033" y="744" width="3" height="1" fill="#c0c0c0"/>
<rect x="1039" y="700" width="3" height="1" fill="#c0c0c0"/>
<rect x="1039" y="744" width="3" height="1" fill="#c0c0c0"/>
<rect x="1045" y="700" width="3" height="1" fill="#c0c0c0"/>
<rect x="1045" y="744" width="3" height="1" fill="#c0c0c0"/>
<rect x="1051" y="700" width="3" height="1" fill="#c0c0c0"/>
<rect x="1051" y="744" width="3" height="1" fill="#c0c0c0"/>
<rect x="1057" y="700" width="3" height="1" fill="#c0c0c0"/>
<rect x="1057" y="744" width="3" height="1" fill="#c0c0c0"/>
<rect x="1063" y="700" width="3" height="1" fill="#c0c0c0"/>
<rect x="1063" y="744" width="3" height="1" fill="#c0c0c0"/>
<rect x="1069" y="700" width="3" height="1" fill="#c0c0c0"/>
<rect x="1069" y="744" width="3" height="1" fill="#c0c0c0"/>
<rect x="1075" y="700" width="3" height="1" fill="#c0c0c0"/>
<rect x="1075" y="744" width="3" height="1" fill="#c0c0c0"/>
<rect x="1081" y="700" width="3" height="1" fill="#c0c0c0"/>
<rect x="1081" y="744" width="3" height="1" fill="#c0c0c0"/>
<rect x="1087" y="700" width="3" height="1" fill="#c0c0c0"/>
<rect x="1087" y="744" width="3" height="1" fill="#c0c0c0"/>
<rect x="1093" y="700" width="3" height="1" fill="#c0c0c0"/>
<rect x="1093" y="744" width="3" height="1" fill="#c0c0c0"/>
<rect x="1099" y="700" width="3" height="1" fill="#c0c0c0"/>
<rect x="1099" y="744" width="3" height="1" fill="#c0c0c0"/>
<rect x="1105" y="700" width="3" height="1" fill="#c0c0c0"/>
<rect x="1105" y="744" width="3" height="1" fill="#c0c0c0"/>
<rect x="1111" y="700" width="3" height="1" fill="#c0c0c0"/>
<rect x="1111" y="744" width="3" height="1" fill="#c0c0c0"/>
<rect x="1117" y="700" width="3" height="1" fill="#c0c0c0"/>
<rect x="1117" y="744" width="3" height="1" fill="#c0c0c0"/>
<rect x="1123" y="700" width="3" height="1" fill="#c0c0c0"/>
<rect x="1123" y="744" width="3" height="1" fill="#c0c0c0"/>
<rect x="1129" y="700" width="3" height="1" fill="#c0c0c0"/>
<rect x="1129" y="744" width="3" height="1" fill="#c0c0c0"/>
<rect x="1135" y="700" width="3" height="1" fill="#c0c0c0"/>
<rect x="1135" y="744" width="3" height="1" fill="#c0c0c0"/>
<rect x="1141" y="700" width="3" height="1" fill="#c0c0c0"/>
<rect x="1141" y="744" width="3" height="1" fill="#c0c0c0"/>
<rect x="1147" y="700" width="3" height="1" fill="#c0c0c0"/>
<rect x="1147" y="744" width="3" height="1" fill="#c0c0c0"/>
<rect x="1153" y="700" width="3" height="1" fill="#c0c0c0"/>
<rect x="1153" y="744" width="3" height="1" fill="#c0c0c0"/>
<rect x="1159" y="700" width="3" height="1" fill="#c0c0c0"/>
<rect x="1159" y="744" width="3" height="1" fill="#c0c0c0"/>
<rect x="1165" y="700" width="3" height="1" fill="#c0c0c0"/>
<rect x="1165" y="744" width="3" height="1" fill="#c0c0c0"/>
<rect x="1171" y="700" width="3" height="1" fill="#c0c0c0"/>
<rect x="1171" y="744" width="3" height="1" fill="#c0c0c0"/>
<rect x="1177" y="700" width="3" height="1" fill="#c0c0c0"/>
<rect x="1177" y="744" width="3" height="1" fill="#c0c0c0"/>
<rect x="1183" y="700" width="3" height="1" fill="#c0c0c0"/>
<rect x="1183" y="744" width="3" height="1" fill="#c0c0c0"/>
<rect x="1189" y="700" width="3" height="1" fill="#c0c0c0"/>
<rect x="1189" y="744" width="3" height="1" fill="#c0c0c0"/>
<rect x="1195" y="700" width="3" height="1" fill="#c0c0c0"/>
<rect x="1195" y="744" width="3" height="1" fill="#c0c0c0"/>
<rect x="1201" y="700" width="3" height="1" fill="#c0c0c0"/>
<rect x="1201" y="744" width="3" height="1" fill="#c0c0c0"/>
<rect x="1207" y="700" width="3" height="1" fill="#c0c0c0"/>
<rect x="1207" y="744" width="3" height="1" fill="#c0c0c0"/>
<rect x="1213" y="700" width="3" height="1" fill="#c0c0c0"/>
<rect x="1213" y="744" width="3" height="1" fill="#c0c0c0"/>
<rect x="1219" y="700" width="3" height="1" fill="#c0c0c0"/>
<rect x="1219" y="744" width="3" height="1" fill="#c0c0c0"/>
<rect x="1225" y="700" width="3" height="1" fill="#c0c0c0"/>
<rect x="1225" y="744" width="3" height="1" fill="#c0c0c0"/>
<rect x="1231" y="700" width="3" height="1" fill="#c0c0c0"/>
<rect x="1231" y="744" width="3" height="1" fill="#c0c0c0"/>
<rect x="1237" y="700" width="3" height="1" fill="#c0c0c0"/>
<rect x="1237" y="744" width="3" height="1" fill="#c0c0c0"/>
<rect x="1243" y="700" width="3" height="1" fill="#c0c0c0"/>
<rect x="1243" y="744" width="3" height="1" fill="#c0c0c0"/>
<rect x="1249" y="700" width="3" height="1" fill="#c0c0c0"/>
<rect x="1249" y="744" width="3" height="1" fill="#c0c0c0"/>
<rect x="1255" y="700" width="3" height="1" fill="#c0c0c0"/>
<rect x="1255" y="744" width="3" height="1" fill="#c0c0c0"/>
<rect x="1261" y="700" width="3" height="1" fill="#c0c0c0"/>
<rect x="1261" y="744" width="3" height="1" fill="#c0c0c0"/>
<rect x="1267" y="700" width="3" height="1" fill="#c0c0c0"/>
<rect x="1267" y="744" width="3" height="1" fill="#c0c0c0"/>
<rect x="1273" y="700" width="3" height="1" fill="#c0c0c0"/>
<rect x="1273" y="744" width="3" height="1" fill="#c0c0c0"/>
<rect x="1279" y="700" width="3" height="1" fill="#c0c0c0"/>
<rect x="1279" y="744" width="3" height="1" fill="#c0c0c0"/>
<rect x="1285" y="700" width="3" height="1" fill="#c0c0c0"/>
<rect x="1285" y="744" width="3" height="1" fill="#c0c0c0"/>
<rect x="1291" y="700" width="3" height="1" fill="#c0c0c0"/>
<rect x="1291" y="744" width="3" height="1" fill="#c0c0c0"/>
<rect x="1297" y="700" width="3" height="1" fill="#c0c0c0"/>
<rect x="1297" y="744" width="3" height="1" fill="#c0c0c0"/>
<rect x="1303" y="700" width="3" height="1" fill="#c0c0c0"/>
<rect x="1303" y="744" width="3" height="1" fill="#c0c0c0"/>
<rect x="1309" y="700" width="3" height="1" fill="#c0c0c0"/>
<rect x="1309" y="744" width="3" height="1" fill="#c0c0c0"/>
<rect x="1315" y="700" width="3" height="1" fill="#c0c0c0"/>
<rect x="1315" y="744" width="3" height="1" fill="#c0c0c0"/>
<rect x="1321" y="700" width="3" height="1" fill="#c0c0c0"/>
<rect x="1321" y="744" width="3" height="1" fill="#c0c0c0"/>
<rect x="1327" y="700" width="3" height="1" fill="#c0c0c0"/>
<rect x="1327" y="744" width="3" height="1" fill="#c0c0c0"/>
<rect x="1333" y="700" width="3" height="1" fill="#c0c0c0"/>
<rect x="1333" y="744" width="3" height="1" fill="#c0c0c0"/>
<rect x="1339" y="700" width="3" height="1" fill="#c0c0c0"/>
<rect x="1339" y="744" width="3" height="1" fill="#c0c0c0"/>
<rect x="1345" y="700" width="3" height="1" fill="#c0c0c0"/>
<rect x="1345" y="744" width="3" height="1" fill="#c0c0c0"/>
<rect x="1351" y="700" width="3" height="1" fill="#c0c0c0"/>
<rect x="1351" y="744" width="3" height="1" fill="#c0c0c0"/>
<rect x="1357" y="700" width="3" height="1" fill="#c0c0c0"/>
<rect x="1357" y="744" width="3" height="1" fill="#c0c0c0"/>
<rect x="1363" y="700" width="3" height="1" fill="#c0c0c0"/>
<rect x="1363" y="744" width="3" height="1" fill="#c0c0c0"/>
<rect x="1369" y="700" width="3" height="1" fill="#c0c0c0"/>
<rect x="1369" y="744" width="3" height="1" fill="#c0c0c0"/>
<rect x="1375" y="700" width="3" height="1" fill="#c0c0c0"/>
<rect x="1375" y="744" width="3" height="1" fill="#c0c0c0"/>
<rect x="1381" y="700" width="3" height="1" fill="#c0c0c0"/>
<rect x="1381" y="744" width="3" height="1" fill="#c0c0c0"/>
<rect x="1387" y="700" width="3" height="1" fill="#c0c0c0"/>
<rect x="1387" y="744" width="3" height="1" fill="#c0c0c0"/>
<rect x="1393" y="700" width="3" height="1" fill="#c0c0c0"/>
<rect x="1393" y="744" width="3" height="1" fill="#c0c0c0"/>
<rect x="1399" y="700" width="3" height="1" fill="#c0c0c0"/>
<rect x="1399" y="744" width="3" height="1" fill="#c0c0c0"/>
<rect x="1405" y="700" width="3" height="1" fill="#c0c0c0"/>
<rect x="1405" y="744" width="3" height="1" fill="#c0c0c0"/>
<rect x="1411" y="700" width="3" height="1" fill="#c0c0c0"/>
<rect x="1411" y="744" width="3" height="1" fill="#c0c0c0"/>
<rect x="1417" y="700" width="3" height="1" fill="#c0c0c0"/>
<rect x="1417" y="744" width="3" height="1" fill="#c0c0c0"/>
<rect x="1423" y="700" width="3" height="1" fill="#c0c0c0"/>
<rect x="1423" y="744" width="3" height="1" fill="#c0c0c0"/>
<rect x="1429" y="700" width="3" height="1" fill="#c0c0c0"/>
<rect x="1429" y="744" width="3" height="1" fill="#c0c0c0"/>
<rect x="1435" y="700" width="3" height="1" fill="#c0c0c0"/>
<rect x="1435" y="744" width="3" height="1" fill="#c0c0c0"/>
<rect x="1441" y="700" width="3" height="1" fill="#c0c0c0"/>
<rect x="1441" y="744" width="3" height="1" fill="#c0c0c0"/>
<rect x="1447" y="700" width="3" height="1" fill="#c0c0c0"/>
<rect x="1447" y="744" width="3" height="1" fill="#c0c0c0"/>
<rect x="1453" y="700" width="3" height="1" fill="#c0c0c0"/>
<rect x="1453" y="744" width="3" height="1" fill="#c0c0c0"/>
<rect x="1459" y="700" width="3" height="1" fill="#c0c0c0"/>
<rect x="1459" y="744" width="3" height="1" fill="#c0c0c0"/>
<rect x="1465" y="700" width="3" height="1" fill="#c0c0c0"/>
<rect x="1465" y="744" width="3" height="1" fill="#c0c0c0"/>
<rect x="1471" y="700" width="3" height="1" fill="#c0c0c0"/>
<rect x="1471" y="744" width="3" height="1" fill="#c0c0c0"/>
<rect x="1477" y="700" width="3" height="1" fill="#c0c0c0"/>
<rect x="1477" y="744" width="3" height="1" fill="#c0c0c0"/>
<rect x="1483" y="700" width="3" height="1" fill="#c0c0c0"/>
<rect x="1483" y="744" width="3" height="1" fill="#c0c0c0"/>
<rect x="1489" y="700" width="3" height="1" fill="#c0c0c0"/>
<rect x="1489" y="744" width="3" height="1" fill="#c0c0c0"/>
<rect x="1495" y="700" width="3" height="1" fill="#c0c0c0"/>
<rect x="1495" y="744" width="3" height="1" fill="#c0c0c0"/>
<rect x="1501" y="700" width="3" height="1" fill="#c0c0c0"/>
<rect x="1501" y="744" width="3" height="1" fill="#c0c0c0"/>
<rect x="1507" y="700" width="3" height="1" fill="#c0c0c0"/>
<rect x="1507" y="744" width="3" height="1" fill="#c0c0c0"/>
<rect x="1513" y="700" width="3" height="1" fill="#c0c0c0"/>
<rect x="1513" y="744" width="3" height="1" fill="#c0c0c0"/>
<rect x="1519" y="700" width="3" height="1" fill="#c0c0c0"/>
<rect x="1519" y="744" width="3" height="1" fill="#c0c0c0"/>
<rect x="1525" y="700" width="3" height="1" fill="#c0c0c0"/>
<rect x="1525" y="744" width="3" height="1" fill="#c0c0c0"/>
<rect x="1531" y="700" width="3" height="1" fill="#c0c0c0"/>
<rect x="1531" y="744" width="3" height="1" fill="#c0c0c0"/>
<rect x="1537" y="700" width="3" height="1" fill="#c0c0c0"/>
<rect x="1537" y="744" width="3" height="1" fill="#c0c0c0"/>
<rect x="1543" y="700" width="3" height="1" fill="#c0c0c0"/>
<rect x="1543" y="744" width="3" height="1" fill="#c0c0c0"/>
<rect x="1549" y="700" width="3" height="1" fill="#c0c0c0"/>
<rect x="1549" y="744" width="3" height="1" fill="#c0c0c0"/>
<rect x="1555" y="700" width="3" height="1" fill="#c0c0c0"/>
<rect x="1555" y="744" width="3" height="1" fill="#c0c0c0"/>
<rect x="1561" y="700" width="3" height="1" fill="#c0c0c0"/>
<rect x="1561" y="744" width="3" height="1" fill="#c0c0c0"/>
<rect x="1567" y="700" width="3" height="1" fill="#c0c0c0"/>
<rect x="1567" y="744" width="3" height="1" fill="#c0c0c0"/>
<rect x="1573" y="700" width="3" height="1" fill="#c0c0c0"/>
<rect x="1573" y="744" width="3" height="1" fill="#c0c0c0"/>
<rect x="1579" y="700" width="3" height="1" fill="#c0c0c0"/>
<rect x="1579" y="744" width="3" height="1" fill="#c0c0c0"/>
<rect x="1585" y="700" width="3" height="1" fill="#c0c0c0"/>
<rect x="1585" y="744" width="3" height="1" fill="#c0c0c0"/>
<rect x="1591" y="700" width="3" height="1" fill="#c0c0c0"/>
<rect x="1591" y="744" width="3" height="1" fill="#c0c0c0"/>
<rect x="1597" y="700" width="3" height="1" fill="#c0c0c0"/>
<rect x="1597" y="744" width="3" height="1" fill="#c0c0c0"/>
<rect x="1603" y="700" width="3" height="1" fill="#c0c0c0"/>
<rect x="1603" y="744" width="3" height="1" fill="#c0c0c0"/>
<rect x="1609" y="700" width="3" height="1" fill="#c0c0c0"/>
<rect x="1609" y="744" width="3" height="1" fill="#c0c0c0"/>
<rect x="1615" y="700" width="3" height="1" fill="#c0c0c0"/>
<rect x="1615" y="744" width="3" height="1" fill="#c0c0c0"/>
<rect x="1621" y="700" width="3" height="1" fill="#c0c0c0"/>
<rect x="1621" y="744" width="3" height="1" fill="#c0c0c0"/>
<rect x="1627" y="700" width="3" height="1" fill="#c0c0c0"/>
<rect x="1627" y="744" width="3" height="1" fill="#c0c0c0"/>
<rect x="1633" y="700" width="3" height="1" fill="#c0c0c0"/>
<rect x="1633" y="744" width="3" height="1" fill="#c0c0c0"/>
<rect x="1639" y="700" width="3" height="1" fill="#c0c0c0"/>
<rect x="1639" y="744" width="3" height="1" fill="#c0c0c0"/>
<rect x="1645" y="700" width="3" height="1" fill="#c0c0c0"/>
<rect x="1645" y="744" width="3" height="1" fill="#c0c0c0"/>
<rect x="1651" y="700" width="3" height="1" fill="#c0c0c0"/>
<rect x="1651" y="744" width="3" height="1" fill="#c0c0c0"/>
<rect x="1657" y="700" width="3" height="1" fill="#c0c0c0"/>
<rect x="1657" y="744" width="3" height="1" fill="#c0c0c0"/>
<rect x="1663" y="700" width="3" height="1" fill="#c0c0c0"/>
<rect x="1663" y="744" width="3" height="1" fill="#c0c0c0"/>
<rect x="1669" y="700" width="3" height="1" fill="#c0c0c0"/>
<rect x="1669" y="744" width="3" height="1" fill="#c0c0c0"/>
<rect x="1675" y="700" width="3" height="1" fill="#c0c0c0"/>
<rect x="1675" y="744" width="3" height="1" fill="#c0c0c0"/>
<rect x="1681" y="700" width="3" height="1" fill="#c0c0c0"/>
<rect x="1681" y="744" width="3" height="1" fill="#c0c0c0"/>
<rect x="1687" y="700" width="3" height="1" fill="#c0c0c0"/>
<rect x="1687" y="744" width="3" height="1" fill="#c0c0c0"/>
</g>
<polyline points="6.5,745.1 14.5,762.5 22.5,764 30.5,745.5 38.5,742.5 46.5,737 54.5,738 62.5,733.5 70.5,729.5 78.5,731.5 86.5,728.5 94.5,729.5 102.5,727.5 110.5,724.9 118.5,723.9 126.5,722.5 134.5,720.5 142.5,721.5 150.5,721.5 158.5,717.5 166.5,719 174.5,712.5 182.5,709 190.5,714.5 198.5,713.5 206.5,710.5 214.5,714.5 222.5,711.5 230.5,706 238.5,704.1 246.5,705 254.5,708.3 262.5,711.5 270.5,720.5 278.5,714.2 286.5,714.2 294.5,719.5 302.5,716.5 310.5,719.5 318.5,737 326.5,735.5 334.5,720.5 342.5,721.5 350.5,716.5 358.5,720.5 366.5,718.5 374.5,717.5 382.5,711.5 390.5,709.9 398.5,715.5 406.5,717.5 414.5,730.5 422.5,731.5 430.5,724.5 438.5,722.5 446.5,722.5 454.5,728.5 462.5,735 470.5,731.5 478.5,743.2 486.5,732.1 494.5,737 502.5,743.2 510.5,739.5 518.5,741.5 526.5,736 534.5,741.5 542.5,745.5 550.5,742.5 558.5,740.5 566.5,737 574.5,739.5 582.5,741.5 590.5,736 598.5,733.5 606.5,728.5 614.5,726.5 622.5,726.5 630.5,728.5 638.5,721.5 646.5,726.2 654.5,730.5 662.5,727.5 670.5,726.5 678.5,727.5 686.5,724.5 694.5,727.5 702.5,725.5 710.5,720.5 718.5,722.5 726.5,724 734.5,716.5 742.5,716.5 750.5,717.5 758.5,717.5 766.5,716.5 774.5,715.5 782.5,716.5 790.5,718.5 798.5,719.5 806.5,721.5 814.5,716.5 822.5,712.5 830.5,713.2 838.5,716.5 846.5,722.5 854.5,718.5 862.5,712.5 870.5,717.5 878.5,716.5 886.5,715.5 894.5,726.5 902.5,722.5 910.5,724 918.5,717.5 926.5,720.5 934.5,719.5 942.5,721.5 950.5,721.5 958.5,714.5 966.5,718.5 974.5,713.5 982.5,716.5 990.5,714.2 998.5,713.5 1006.5,705 1014.5,705 1022.5,708 1030.5,705 1038.5,706 1046.5,707 1054.5,700.5 1062.5,702.5 1070.5,700.5 1078.5,705 1086.5,709 1094.5,707 1102.5,709 1110.5,706 1118.5,721.5 1126.5,722.5 1134.5,721.5 1142.5,727.5 1150.5,719.5 1158.5,723.5 1166.5,719 1174.5,717.5 1182.5,720.5 1190.5,720.5 1198.5,720.5 1206.5,726.5 1214.5,736 1222.5,740.2 1230.5,740.5 1238.5,738.5 1246.5,731.5 1254.5,729.5 1262.5,731.5 1270.5,732.5 1278.5,737 1286.5,729.5 1294.5,728.5 1302.5,727.5 1310.5,707 1318.5,706.5 1326.5,705.5 1334.5,704.5" fill="none" stroke="#1e90ff" stroke-width="1" shape-rendering="crispEdges"/>
<text transform="translate(10 678.3) scale(0.925 1)" font-size="10.1" fill="#000" stroke="#000" stroke-width="0.13" textLength="73" lengthAdjust="spacingAndGlyphs">RSI(14) 66.4791</text>
<text transform="translate(1694 676.3) scale(0.925 1)" font-size="10.1" fill="#000" stroke="#000" stroke-width="0.13">100</text>
<text transform="translate(1694 704.3) scale(0.925 1)" font-size="10.1" fill="#000" stroke="#000" stroke-width="0.13">70</text>
<text transform="translate(1694 748.3) scale(0.925 1)" font-size="10.1" fill="#000" stroke="#000" stroke-width="0.13">30</text>
<text transform="translate(1694 775.3) scale(0.925 1)" font-size="10.1" fill="#000" stroke="#000" stroke-width="0.13">0</text>
<g shape-rendering="crispEdges">
<rect x="6" y="779" width="1" height="3" fill="#000"/>
<rect x="70" y="779" width="1" height="3" fill="#000"/>
<rect x="134" y="779" width="1" height="3" fill="#000"/>
<rect x="198" y="779" width="1" height="3" fill="#000"/>
<rect x="262" y="779" width="1" height="3" fill="#000"/>
<rect x="326" y="779" width="1" height="3" fill="#000"/>
<rect x="390" y="779" width="1" height="3" fill="#000"/>
<rect x="454" y="779" width="1" height="3" fill="#000"/>
<rect x="518" y="779" width="1" height="3" fill="#000"/>
<rect x="582" y="779" width="1" height="3" fill="#000"/>
<rect x="646" y="779" width="1" height="3" fill="#000"/>
<rect x="710" y="779" width="1" height="3" fill="#000"/>
<rect x="774" y="779" width="1" height="3" fill="#000"/>
<rect x="838" y="779" width="1" height="3" fill="#000"/>
<rect x="902" y="779" width="1" height="3" fill="#000"/>
<rect x="966" y="779" width="1" height="3" fill="#000"/>
<rect x="1030" y="779" width="1" height="3" fill="#000"/>
<rect x="1094" y="779" width="1" height="3" fill="#000"/>
<rect x="1158" y="779" width="1" height="3" fill="#000"/>
<rect x="1222" y="779" width="1" height="3" fill="#000"/>
<rect x="1286" y="779" width="1" height="3" fill="#000"/>
</g>
<text transform="translate(5 791.2) scale(0.925 1)" font-size="10.1" fill="#000" stroke="#000" stroke-width="0.13">23 Jan 2020</text>
<text transform="translate(69 791.2) scale(0.925 1)" font-size="10.1" fill="#000" stroke="#000" stroke-width="0.13">6 Feb 05:00</text>
<text transform="translate(133 791.2) scale(0.925 1)" font-size="10.1" fill="#000" stroke="#000" stroke-width="0.13">12 Feb 05:00</text>
<text transform="translate(197 791.2) scale(0.925 1)" font-size="10.1" fill="#000" stroke="#000" stroke-width="0.13">18 Feb 05:00</text>
<text transform="translate(261 791.2) scale(0.925 1)" font-size="10.1" fill="#000" stroke="#000" stroke-width="0.13">24 Feb 05:00</text>
<text transform="translate(325 791.2) scale(0.925 1)" font-size="10.1" fill="#000" stroke="#000" stroke-width="0.13">28 Feb 05:00</text>
<text transform="translate(389 791.2) scale(0.925 1)" font-size="10.1" fill="#000" stroke="#000" stroke-width="0.13">5 Mar 05:00</text>
<text transform="translate(453 791.2) scale(0.925 1)" font-size="10.1" fill="#000" stroke="#000" stroke-width="0.13">11 Mar 05:00</text>
<text transform="translate(517 791.2) scale(0.925 1)" font-size="10.1" fill="#000" stroke="#000" stroke-width="0.13">17 Mar 05:00</text>
<text transform="translate(581 791.2) scale(0.925 1)" font-size="10.1" fill="#000" stroke="#000" stroke-width="0.13">23 Mar 05:00</text>
<text transform="translate(645 791.2) scale(0.925 1)" font-size="10.1" fill="#000" stroke="#000" stroke-width="0.13">27 Mar 05:00</text>
<text transform="translate(709 791.2) scale(0.925 1)" font-size="10.1" fill="#000" stroke="#000" stroke-width="0.13">2 Apr 05:00</text>
<text transform="translate(773 791.2) scale(0.925 1)" font-size="10.1" fill="#000" stroke="#000" stroke-width="0.13">9 Apr 05:00</text>
<text transform="translate(837 791.2) scale(0.925 1)" font-size="10.1" fill="#000" stroke="#000" stroke-width="0.13">15 Apr 05:00</text>
<text transform="translate(901 791.2) scale(0.925 1)" font-size="10.1" fill="#000" stroke="#000" stroke-width="0.13">21 Apr 05:00</text>
<text transform="translate(965 791.2) scale(0.925 1)" font-size="10.1" fill="#000" stroke="#000" stroke-width="0.13">27 Apr 05:00</text>
<text transform="translate(1029 791.2) scale(0.925 1)" font-size="10.1" fill="#000" stroke="#000" stroke-width="0.13">6 May 05:00</text>
<text transform="translate(1093 791.2) scale(0.925 1)" font-size="10.1" fill="#000" stroke="#000" stroke-width="0.13">12 May 05:00</text>
<text transform="translate(1157 791.2) scale(0.925 1)" font-size="10.1" fill="#000" stroke="#000" stroke-width="0.13">18 May 05:00</text>
<text transform="translate(1221 791.2) scale(0.925 1)" font-size="10.1" fill="#000" stroke="#000" stroke-width="0.13">22 May 05:00</text>
<text transform="translate(1285 791.2) scale(0.925 1)" font-size="10.1" fill="#000" stroke="#000" stroke-width="0.13">28 May 05:00</text>
</svg></body></html>
